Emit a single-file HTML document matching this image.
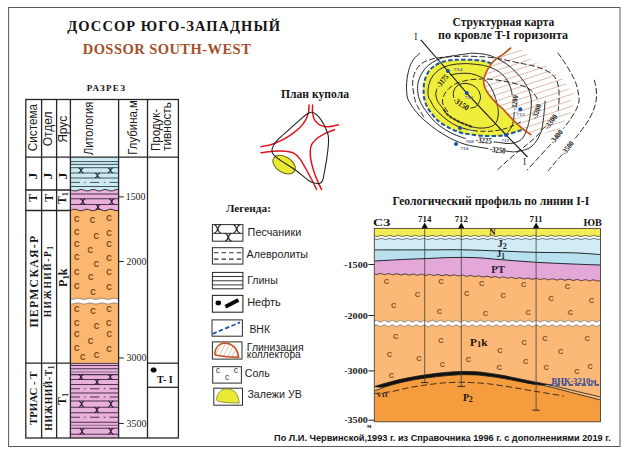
<!DOCTYPE html>
<html lang="ru"><head><meta charset="utf-8"><title>Доссор Юго-Западный</title>
<style>
html,body{margin:0;padding:0;background:#fff;}
body{width:624px;height:453px;overflow:hidden;}
svg{display:block;}
text{white-space:pre;}
</style></head><body>
<svg width="624" height="453" viewBox="0 0 624 453">
<rect x="0" y="0" width="624" height="453" fill="#fff" stroke="none" stroke-width="1" />
<rect x="8.6" y="7.5" width="611.4" height="439" fill="none" stroke="#5a5a5a" stroke-width="1" />
<text x="67.3" y="31" font-family='"Liberation Serif", serif' font-size="14.5" font-weight="bold" fill="#141414" text-anchor="start" textLength="212.7" lengthAdjust="spacing" >ДОССОР ЮГО-ЗАПАДНЫЙ</text>
<text x="82.7" y="53.5" font-family='"Liberation Serif", serif' font-size="14.5" font-weight="bold" fill="#a4512a" text-anchor="start" textLength="168.1" lengthAdjust="spacing" >DOSSOR SOUTH-WEST</text>
<text x="86.8" y="91.4" font-family='"Liberation Serif", serif' font-size="9" font-weight="bold" fill="#141414" text-anchor="start" textLength="38.2" lengthAdjust="spacing" >РАЗРЕЗ</text>
<rect x="70.4" y="157.1" width="48.2" height="33.4" fill="#cdeaf0" stroke="none" stroke-width="1" />
<rect x="70.4" y="189.5" width="48.2" height="21.5" fill="#e8b0da" stroke="none" stroke-width="1" />
<rect x="70.4" y="210" width="48.2" height="153.4" fill="#fbb670" stroke="none" stroke-width="1" />
<rect x="70.4" y="363.4" width="48.2" height="74.6" fill="#e8b0da" stroke="none" stroke-width="1" />
<path d="M70.4 189.55 C70.9 189.74 72.4 190.45 73.4 190.67 C74.4 190.89 75.4 191 76.4 190.85 C77.4 190.69 78.4 189.95 79.4 189.73 C80.4 189.51 81.4 189.4 82.4 189.55 C83.4 189.71 84.4 190.45 85.4 190.67 C86.4 190.89 87.4 191 88.4 190.85 C89.4 190.69 90.4 189.95 91.4 189.73 C92.4 189.51 93.4 189.4 94.4 189.55 C95.4 189.71 96.4 190.45 97.4 190.67 C98.4 190.89 99.4 191 100.4 190.85 C101.4 190.69 102.4 189.95 103.4 189.73 C104.4 189.51 105.4 189.4 106.4 189.55 C107.4 189.71 108.4 190.45 109.4 190.67 C110.4 190.89 111.4 191 112.4 190.85 C113.4 190.69 114.4 189.95 115.4 189.73 C116.4 189.51 117.87 189.57 118.4 189.55 C118.93 189.53 118.57 189.6 118.6 189.61 L118.6 193 L70.4 193 Z" fill="#e8b0da" stroke="none" stroke-width="1" />
<path d="M70.4 189.55 C70.9 189.74 72.4 190.45 73.4 190.67 C74.4 190.89 75.4 191 76.4 190.85 C77.4 190.69 78.4 189.95 79.4 189.73 C80.4 189.51 81.4 189.4 82.4 189.55 C83.4 189.71 84.4 190.45 85.4 190.67 C86.4 190.89 87.4 191 88.4 190.85 C89.4 190.69 90.4 189.95 91.4 189.73 C92.4 189.51 93.4 189.4 94.4 189.55 C95.4 189.71 96.4 190.45 97.4 190.67 C98.4 190.89 99.4 191 100.4 190.85 C101.4 190.69 102.4 189.95 103.4 189.73 C104.4 189.51 105.4 189.4 106.4 189.55 C107.4 189.71 108.4 190.45 109.4 190.67 C110.4 190.89 111.4 191 112.4 190.85 C113.4 190.69 114.4 189.95 115.4 189.73 C116.4 189.51 117.87 189.57 118.4 189.55 C118.93 189.53 118.57 189.6 118.6 189.61 L118.6 188 L70.4 188 Z" fill="#cdeaf0" stroke="none" stroke-width="1" />
<path d="M70.4 189.55 C70.9 189.74 72.4 190.45 73.4 190.67 C74.4 190.89 75.4 191 76.4 190.85 C77.4 190.69 78.4 189.95 79.4 189.73 C80.4 189.51 81.4 189.4 82.4 189.55 C83.4 189.71 84.4 190.45 85.4 190.67 C86.4 190.89 87.4 191 88.4 190.85 C89.4 190.69 90.4 189.95 91.4 189.73 C92.4 189.51 93.4 189.4 94.4 189.55 C95.4 189.71 96.4 190.45 97.4 190.67 C98.4 190.89 99.4 191 100.4 190.85 C101.4 190.69 102.4 189.95 103.4 189.73 C104.4 189.51 105.4 189.4 106.4 189.55 C107.4 189.71 108.4 190.45 109.4 190.67 C110.4 190.89 111.4 191 112.4 190.85 C113.4 190.69 114.4 189.95 115.4 189.73 C116.4 189.51 117.87 189.57 118.4 189.55 C118.93 189.53 118.57 189.6 118.6 189.61 L118.6 193 L70.4 193 Z" fill="#e8b0da" stroke="none" stroke-width="1" />
<path d="M70.4 189.55 C70.9 189.74 72.4 190.45 73.4 190.67 C74.4 190.89 75.4 191 76.4 190.85 C77.4 190.69 78.4 189.95 79.4 189.73 C80.4 189.51 81.4 189.4 82.4 189.55 C83.4 189.71 84.4 190.45 85.4 190.67 C86.4 190.89 87.4 191 88.4 190.85 C89.4 190.69 90.4 189.95 91.4 189.73 C92.4 189.51 93.4 189.4 94.4 189.55 C95.4 189.71 96.4 190.45 97.4 190.67 C98.4 190.89 99.4 191 100.4 190.85 C101.4 190.69 102.4 189.95 103.4 189.73 C104.4 189.51 105.4 189.4 106.4 189.55 C107.4 189.71 108.4 190.45 109.4 190.67 C110.4 190.89 111.4 191 112.4 190.85 C113.4 190.69 114.4 189.95 115.4 189.73 C116.4 189.51 117.87 189.57 118.4 189.55 C118.93 189.53 118.57 189.6 118.6 189.61" fill="none" stroke="#2a2a34" stroke-width="1" />
<path d="M70.4 210.53 C70.9 210.35 72.4 209.58 73.4 209.4 C74.4 209.23 75.4 209.27 76.4 209.47 C77.4 209.66 78.4 210.42 79.4 210.6 C80.4 210.77 81.4 210.73 82.4 210.53 C83.4 210.34 84.4 209.58 85.4 209.4 C86.4 209.23 87.4 209.27 88.4 209.47 C89.4 209.66 90.4 210.42 91.4 210.6 C92.4 210.77 93.4 210.73 94.4 210.53 C95.4 210.34 96.4 209.58 97.4 209.4 C98.4 209.23 99.4 209.27 100.4 209.47 C101.4 209.66 102.4 210.42 103.4 210.6 C104.4 210.77 105.4 210.73 106.4 210.53 C107.4 210.34 108.4 209.58 109.4 209.4 C110.4 209.23 111.4 209.27 112.4 209.47 C113.4 209.66 114.4 210.42 115.4 210.6 C116.4 210.77 117.87 210.56 118.4 210.53 C118.93 210.51 118.57 210.48 118.6 210.47 L118.6 208 L70.4 208 Z" fill="#e8b0da" stroke="none" stroke-width="1" />
<path d="M70.4 210.53 C70.9 210.35 72.4 209.58 73.4 209.4 C74.4 209.23 75.4 209.27 76.4 209.47 C77.4 209.66 78.4 210.42 79.4 210.6 C80.4 210.77 81.4 210.73 82.4 210.53 C83.4 210.34 84.4 209.58 85.4 209.4 C86.4 209.23 87.4 209.27 88.4 209.47 C89.4 209.66 90.4 210.42 91.4 210.6 C92.4 210.77 93.4 210.73 94.4 210.53 C95.4 210.34 96.4 209.58 97.4 209.4 C98.4 209.23 99.4 209.27 100.4 209.47 C101.4 209.66 102.4 210.42 103.4 210.6 C104.4 210.77 105.4 210.73 106.4 210.53 C107.4 210.34 108.4 209.58 109.4 209.4 C110.4 209.23 111.4 209.27 112.4 209.47 C113.4 209.66 114.4 210.42 115.4 210.6 C116.4 210.77 117.87 210.56 118.4 210.53 C118.93 210.51 118.57 210.48 118.6 210.47 L118.6 213 L70.4 213 Z" fill="#fbb670" stroke="none" stroke-width="1" />
<path d="M70.4 210.53 C70.9 210.35 72.4 209.58 73.4 209.4 C74.4 209.23 75.4 209.27 76.4 209.47 C77.4 209.66 78.4 210.42 79.4 210.6 C80.4 210.77 81.4 210.73 82.4 210.53 C83.4 210.34 84.4 209.58 85.4 209.4 C86.4 209.23 87.4 209.27 88.4 209.47 C89.4 209.66 90.4 210.42 91.4 210.6 C92.4 210.77 93.4 210.73 94.4 210.53 C95.4 210.34 96.4 209.58 97.4 209.4 C98.4 209.23 99.4 209.27 100.4 209.47 C101.4 209.66 102.4 210.42 103.4 210.6 C104.4 210.77 105.4 210.73 106.4 210.53 C107.4 210.34 108.4 209.58 109.4 209.4 C110.4 209.23 111.4 209.27 112.4 209.47 C113.4 209.66 114.4 210.42 115.4 210.6 C116.4 210.77 117.87 210.56 118.4 210.53 C118.93 210.51 118.57 210.48 118.6 210.47" fill="none" stroke="#2a222a" stroke-width="1" />
<line x1="70.4" y1="161.6" x2="118.6" y2="161.6" stroke="#3c5560" stroke-width="1" />
<line x1="70.4" y1="164.4" x2="118.6" y2="164.4" stroke="#3c5560" stroke-width="1" />
<line x1="70.4" y1="167.7" x2="118.6" y2="167.7" stroke="#3c5560" stroke-width="1" />
<line x1="70.4" y1="173" x2="118.6" y2="173" stroke="#3c5560" stroke-width="1" />
<line x1="70.4" y1="178" x2="118.6" y2="178" stroke="#3c5560" stroke-width="1" />
<line x1="70.4" y1="186.5" x2="118.6" y2="186.5" stroke="#3c5560" stroke-width="1" />
<line x1="70.4" y1="182.4" x2="118.6" y2="182.4" stroke="#3c5560" stroke-width="1" stroke-dasharray="9.4 4.4 1.4 4.4"/>
<path d="M78.7 167.7 Q83.07 170.35 78.7 173 M83.3 167.7 Q78.93 170.35 83.3 173" fill="none" stroke="#1c2a30" stroke-width="1.1" />
<path d="M108.1 167.7 Q112.47 170.35 108.1 173 M112.7 167.7 Q108.33 170.35 112.7 173" fill="none" stroke="#1c2a30" stroke-width="1.1" />
<path d="M95.1 173 Q99.47 175.5 95.1 178 M99.7 173 Q95.33 175.5 99.7 178" fill="none" stroke="#1c2a30" stroke-width="1.1" />
<line x1="70.4" y1="194" x2="118.6" y2="194" stroke="#4a3350" stroke-width="1.05" />
<line x1="70.4" y1="198.8" x2="118.6" y2="198.8" stroke="#4a3350" stroke-width="1.05" />
<line x1="70.4" y1="204.4" x2="118.6" y2="204.4" stroke="#4a3350" stroke-width="1.05" />
<path d="M80.5 198.8 Q84.87 201.6 80.5 204.4 M85.1 198.8 Q80.73 201.6 85.1 204.4" fill="none" stroke="#2a1a30" stroke-width="1.1" />
<path d="M109.4 198.8 Q113.77 201.6 109.4 204.4 M114 198.8 Q109.63 201.6 114 204.4" fill="none" stroke="#2a1a30" stroke-width="1.1" />
<path d="M95.7 204.4 Q100.07 207.1 95.7 209.8 M100.3 204.4 Q95.93 207.1 100.3 209.8" fill="none" stroke="#2a1a30" stroke-width="1.1" />
<line x1="70.4" y1="365.5" x2="118.6" y2="365.5" stroke="#4a3350" stroke-width="1.05" />
<line x1="70.4" y1="368.8" x2="118.6" y2="368.8" stroke="#4a3350" stroke-width="1.05" />
<line x1="70.4" y1="374.6" x2="118.6" y2="374.6" stroke="#4a3350" stroke-width="1.05" />
<line x1="70.4" y1="379.5" x2="118.6" y2="379.5" stroke="#4a3350" stroke-width="1.05" />
<line x1="70.4" y1="384.4" x2="118.6" y2="384.4" stroke="#4a3350" stroke-width="1.05" />
<line x1="70.4" y1="392.9" x2="118.6" y2="392.9" stroke="#4a3350" stroke-width="1.05" />
<line x1="70.4" y1="401" x2="118.6" y2="401" stroke="#4a3350" stroke-width="1.05" />
<line x1="70.4" y1="407.2" x2="118.6" y2="407.2" stroke="#4a3350" stroke-width="1.05" />
<line x1="70.4" y1="412.8" x2="118.6" y2="412.8" stroke="#4a3350" stroke-width="1.05" />
<line x1="70.4" y1="422.3" x2="118.6" y2="422.3" stroke="#4a3350" stroke-width="1.05" />
<line x1="70.4" y1="428.3" x2="118.6" y2="428.3" stroke="#4a3350" stroke-width="1.05" />
<line x1="70.4" y1="434.3" x2="118.6" y2="434.3" stroke="#4a3350" stroke-width="1.05" />
<line x1="70.4" y1="372" x2="118.6" y2="372" stroke="#4a3350" stroke-width="0.6" />
<line x1="70.4" y1="425.3" x2="118.6" y2="425.3" stroke="#4a3350" stroke-width="0.6" />
<line x1="70.4" y1="388.8" x2="118.6" y2="388.8" stroke="#4a3350" stroke-width="1.05" stroke-dasharray="9.4 4.4 1.4 4.4"/>
<line x1="70.4" y1="397" x2="118.6" y2="397" stroke="#4a3350" stroke-width="1.05" stroke-dasharray="9.4 4.4 1.4 4.4"/>
<line x1="70.4" y1="417.2" x2="118.6" y2="417.2" stroke="#4a3350" stroke-width="1.05" stroke-dasharray="9.4 4.4 1.4 4.4"/>
<path d="M78.7 374.6 Q83.07 377.05 78.7 379.5 M83.3 374.6 Q78.93 377.05 83.3 379.5" fill="none" stroke="#2a1a30" stroke-width="1.1" />
<path d="M108 374.6 Q112.37 377.05 108 379.5 M112.6 374.6 Q108.23 377.05 112.6 379.5" fill="none" stroke="#2a1a30" stroke-width="1.1" />
<path d="M94.7 379.5 Q99.07 381.95 94.7 384.4 M99.3 379.5 Q94.93 381.95 99.3 384.4" fill="none" stroke="#2a1a30" stroke-width="1.1" />
<path d="M79.3 401 Q83.67 404.1 79.3 407.2 M83.9 401 Q79.53 404.1 83.9 407.2" fill="none" stroke="#2a1a30" stroke-width="1.1" />
<path d="M108.5 401 Q112.87 404.1 108.5 407.2 M113.1 401 Q108.73 404.1 113.1 407.2" fill="none" stroke="#2a1a30" stroke-width="1.1" />
<path d="M94.6 407.2 Q98.97 410 94.6 412.8 M99.2 407.2 Q94.83 410 99.2 412.8" fill="none" stroke="#2a1a30" stroke-width="1.1" />
<path d="M79.7 428.3 Q84.07 431.3 79.7 434.3 M84.3 428.3 Q79.93 431.3 84.3 434.3" fill="none" stroke="#2a1a30" stroke-width="1.1" />
<path d="M108.5 428.3 Q112.87 431.3 108.5 434.3 M113.1 428.3 Q108.73 431.3 113.1 434.3" fill="none" stroke="#2a1a30" stroke-width="1.1" />
<text x="76.8" y="221.5" font-family='"Liberation Sans", sans-serif' font-size="8.3" font-weight="bold" fill="#7a4414" text-anchor="middle" textLength="5.6" lengthAdjust="spacingAndGlyphs" >C</text>
<text x="92.6" y="223" font-family='"Liberation Sans", sans-serif' font-size="8.3" font-weight="bold" fill="#7a4414" text-anchor="middle" textLength="5.6" lengthAdjust="spacingAndGlyphs" >C</text>
<text x="109" y="221" font-family='"Liberation Sans", sans-serif' font-size="8.3" font-weight="bold" fill="#7a4414" text-anchor="middle" textLength="5.6" lengthAdjust="spacingAndGlyphs" >C</text>
<text x="76.8" y="235" font-family='"Liberation Sans", sans-serif' font-size="8.3" font-weight="bold" fill="#7a4414" text-anchor="middle" textLength="5.6" lengthAdjust="spacingAndGlyphs" >C</text>
<text x="96.2" y="238.6" font-family='"Liberation Sans", sans-serif' font-size="8.3" font-weight="bold" fill="#7a4414" text-anchor="middle" textLength="5.6" lengthAdjust="spacingAndGlyphs" >C</text>
<text x="109" y="235.6" font-family='"Liberation Sans", sans-serif' font-size="8.3" font-weight="bold" fill="#7a4414" text-anchor="middle" textLength="5.6" lengthAdjust="spacingAndGlyphs" >C</text>
<text x="76.8" y="246.5" font-family='"Liberation Sans", sans-serif' font-size="8.3" font-weight="bold" fill="#7a4414" text-anchor="middle" textLength="5.6" lengthAdjust="spacingAndGlyphs" >C</text>
<text x="90.4" y="252.7" font-family='"Liberation Sans", sans-serif' font-size="8.3" font-weight="bold" fill="#7a4414" text-anchor="middle" textLength="5.6" lengthAdjust="spacingAndGlyphs" >C</text>
<text x="109" y="246.5" font-family='"Liberation Sans", sans-serif' font-size="8.3" font-weight="bold" fill="#7a4414" text-anchor="middle" textLength="5.6" lengthAdjust="spacingAndGlyphs" >C</text>
<text x="76.8" y="260.3" font-family='"Liberation Sans", sans-serif' font-size="8.3" font-weight="bold" fill="#7a4414" text-anchor="middle" textLength="5.6" lengthAdjust="spacingAndGlyphs" >C</text>
<text x="96.2" y="267.4" font-family='"Liberation Sans", sans-serif' font-size="8.3" font-weight="bold" fill="#7a4414" text-anchor="middle" textLength="5.6" lengthAdjust="spacingAndGlyphs" >C</text>
<text x="109" y="261" font-family='"Liberation Sans", sans-serif' font-size="8.3" font-weight="bold" fill="#7a4414" text-anchor="middle" textLength="5.6" lengthAdjust="spacingAndGlyphs" >C</text>
<text x="76.8" y="275.1" font-family='"Liberation Sans", sans-serif' font-size="8.3" font-weight="bold" fill="#7a4414" text-anchor="middle" textLength="5.6" lengthAdjust="spacingAndGlyphs" >C</text>
<text x="90.9" y="279.7" font-family='"Liberation Sans", sans-serif' font-size="8.3" font-weight="bold" fill="#7a4414" text-anchor="middle" textLength="5.6" lengthAdjust="spacingAndGlyphs" >C</text>
<text x="109" y="275.1" font-family='"Liberation Sans", sans-serif' font-size="8.3" font-weight="bold" fill="#7a4414" text-anchor="middle" textLength="5.6" lengthAdjust="spacingAndGlyphs" >C</text>
<text x="76.8" y="289" font-family='"Liberation Sans", sans-serif' font-size="8.3" font-weight="bold" fill="#7a4414" text-anchor="middle" textLength="5.6" lengthAdjust="spacingAndGlyphs" >C</text>
<text x="93" y="294.5" font-family='"Liberation Sans", sans-serif' font-size="8.3" font-weight="bold" fill="#7a4414" text-anchor="middle" textLength="5.6" lengthAdjust="spacingAndGlyphs" >C</text>
<text x="109" y="289.5" font-family='"Liberation Sans", sans-serif' font-size="8.3" font-weight="bold" fill="#7a4414" text-anchor="middle" textLength="5.6" lengthAdjust="spacingAndGlyphs" >C</text>
<text x="76.8" y="312.1" font-family='"Liberation Sans", sans-serif' font-size="8.3" font-weight="bold" fill="#7a4414" text-anchor="middle" textLength="5.6" lengthAdjust="spacingAndGlyphs" >C</text>
<text x="93" y="313.9" font-family='"Liberation Sans", sans-serif' font-size="8.3" font-weight="bold" fill="#7a4414" text-anchor="middle" textLength="5.6" lengthAdjust="spacingAndGlyphs" >C</text>
<text x="109" y="311.6" font-family='"Liberation Sans", sans-serif' font-size="8.3" font-weight="bold" fill="#7a4414" text-anchor="middle" textLength="5.6" lengthAdjust="spacingAndGlyphs" >C</text>
<text x="76.8" y="325.7" font-family='"Liberation Sans", sans-serif' font-size="8.3" font-weight="bold" fill="#7a4414" text-anchor="middle" textLength="5.6" lengthAdjust="spacingAndGlyphs" >C</text>
<text x="96.5" y="328.9" font-family='"Liberation Sans", sans-serif' font-size="8.3" font-weight="bold" fill="#7a4414" text-anchor="middle" textLength="5.6" lengthAdjust="spacingAndGlyphs" >C</text>
<text x="108.9" y="326.2" font-family='"Liberation Sans", sans-serif' font-size="8.3" font-weight="bold" fill="#7a4414" text-anchor="middle" textLength="5.6" lengthAdjust="spacingAndGlyphs" >C</text>
<text x="76.8" y="337.4" font-family='"Liberation Sans", sans-serif' font-size="8.3" font-weight="bold" fill="#7a4414" text-anchor="middle" textLength="5.6" lengthAdjust="spacingAndGlyphs" >C</text>
<text x="90.5" y="343.5" font-family='"Liberation Sans", sans-serif' font-size="8.3" font-weight="bold" fill="#7a4414" text-anchor="middle" textLength="5.6" lengthAdjust="spacingAndGlyphs" >C</text>
<text x="109.4" y="337.4" font-family='"Liberation Sans", sans-serif' font-size="8.3" font-weight="bold" fill="#7a4414" text-anchor="middle" textLength="5.6" lengthAdjust="spacingAndGlyphs" >C</text>
<text x="76.8" y="350.9" font-family='"Liberation Sans", sans-serif' font-size="8.3" font-weight="bold" fill="#7a4414" text-anchor="middle" textLength="5.6" lengthAdjust="spacingAndGlyphs" >C</text>
<text x="109" y="351.5" font-family='"Liberation Sans", sans-serif' font-size="8.3" font-weight="bold" fill="#7a4414" text-anchor="middle" textLength="5.6" lengthAdjust="spacingAndGlyphs" >C</text>
<text x="82.9" y="359.8" font-family='"Liberation Sans", sans-serif' font-size="8.3" font-weight="bold" fill="#7a4414" text-anchor="middle" textLength="5.6" lengthAdjust="spacingAndGlyphs" >C</text>
<text x="96.5" y="358.4" font-family='"Liberation Sans", sans-serif' font-size="8.3" font-weight="bold" fill="#7a4414" text-anchor="middle" textLength="5.6" lengthAdjust="spacingAndGlyphs" >C</text>
<path d="M70.8 299.3 C71.3 299.27 72.8 299.29 73.8 299.12 C74.8 298.96 75.8 298.4 76.8 298.3 C77.8 298.19 78.8 298.31 79.8 298.48 C80.8 298.64 81.8 299.2 82.8 299.3 C83.8 299.41 84.8 299.29 85.8 299.12 C86.8 298.96 87.8 298.4 88.8 298.3 C89.8 298.19 90.8 298.31 91.8 298.48 C92.8 298.64 93.8 299.2 94.8 299.3 C95.8 299.41 96.8 299.29 97.8 299.12 C98.8 298.96 99.8 298.4 100.8 298.3 C101.8 298.19 102.8 298.31 103.8 298.48 C104.8 298.64 105.8 299.2 106.8 299.3 C107.8 299.41 108.8 299.29 109.8 299.12 C110.8 298.96 111.8 298.4 112.8 298.3 C113.8 298.19 114.9 298.33 115.8 298.48 C116.7 298.62 117.8 299.06 118.2 299.18 L118.2 303.88 C117.8 303.76 116.7 303.32 115.8 303.18 C114.9 303.03 113.8 302.89 112.8 303 C111.8 303.1 110.8 303.66 109.8 303.82 C108.8 303.99 107.8 304.11 106.8 304 C105.8 303.9 104.8 303.34 103.8 303.18 C102.8 303.01 101.8 302.89 100.8 303 C99.8 303.1 98.8 303.66 97.8 303.82 C96.8 303.99 95.8 304.11 94.8 304 C93.8 303.9 92.8 303.34 91.8 303.18 C90.8 303.01 89.8 302.89 88.8 303 C87.8 303.1 86.8 303.66 85.8 303.82 C84.8 303.99 83.8 304.11 82.8 304 C81.8 303.9 80.8 303.34 79.8 303.18 C78.8 303.01 77.8 302.89 76.8 303 C75.8 303.1 74.8 303.66 73.8 303.82 C72.8 303.99 71.3 303.97 70.8 304 Z" fill="#fff" stroke="none" stroke-width="1" />
<path d="M70.8 299.3 C71.3 299.27 72.8 299.29 73.8 299.12 C74.8 298.96 75.8 298.4 76.8 298.3 C77.8 298.19 78.8 298.31 79.8 298.48 C80.8 298.64 81.8 299.2 82.8 299.3 C83.8 299.41 84.8 299.29 85.8 299.12 C86.8 298.96 87.8 298.4 88.8 298.3 C89.8 298.19 90.8 298.31 91.8 298.48 C92.8 298.64 93.8 299.2 94.8 299.3 C95.8 299.41 96.8 299.29 97.8 299.12 C98.8 298.96 99.8 298.4 100.8 298.3 C101.8 298.19 102.8 298.31 103.8 298.48 C104.8 298.64 105.8 299.2 106.8 299.3 C107.8 299.41 108.8 299.29 109.8 299.12 C110.8 298.96 111.8 298.4 112.8 298.3 C113.8 298.19 114.9 298.33 115.8 298.48 C116.7 298.62 117.8 299.06 118.2 299.18" fill="none" stroke="#7a6a58" stroke-width="0.75" />
<path d="M70.8 304 C71.3 303.97 72.8 303.99 73.8 303.82 C74.8 303.66 75.8 303.1 76.8 303 C77.8 302.89 78.8 303.01 79.8 303.18 C80.8 303.34 81.8 303.9 82.8 304 C83.8 304.11 84.8 303.99 85.8 303.82 C86.8 303.66 87.8 303.1 88.8 303 C89.8 302.89 90.8 303.01 91.8 303.18 C92.8 303.34 93.8 303.9 94.8 304 C95.8 304.11 96.8 303.99 97.8 303.82 C98.8 303.66 99.8 303.1 100.8 303 C101.8 302.89 102.8 303.01 103.8 303.18 C104.8 303.34 105.8 303.9 106.8 304 C107.8 304.11 108.8 303.99 109.8 303.82 C110.8 303.66 111.8 303.1 112.8 303 C113.8 302.89 114.9 303.03 115.8 303.18 C116.7 303.32 117.8 303.76 118.2 303.88" fill="none" stroke="#7a6a58" stroke-width="0.75" />
<rect x="25.8" y="99.5" width="152.6" height="338.5" fill="none" stroke="#262626" stroke-width="1.3" />
<line x1="41.6" y1="99.5" x2="41.6" y2="438" stroke="#262626" stroke-width="1.3" />
<line x1="56.6" y1="99.5" x2="56.6" y2="438" stroke="#262626" stroke-width="1.3" />
<line x1="70.4" y1="99.5" x2="70.4" y2="438" stroke="#262626" stroke-width="1.3" />
<line x1="118.6" y1="99.5" x2="118.6" y2="438" stroke="#262626" stroke-width="1.3" />
<line x1="147.5" y1="99.5" x2="147.5" y2="438" stroke="#262626" stroke-width="1.3" />
<line x1="25.8" y1="157.1" x2="178.4" y2="157.1" stroke="#262626" stroke-width="1.3" />
<line x1="25.8" y1="190" x2="70.4" y2="190" stroke="#262626" stroke-width="1.3" />
<line x1="25.8" y1="210.5" x2="70.4" y2="210.5" stroke="#262626" stroke-width="1.3" />
<line x1="25.8" y1="363.2" x2="70.4" y2="363.2" stroke="#262626" stroke-width="1.3" />
<line x1="147.5" y1="363.2" x2="178.4" y2="363.2" stroke="#262626" stroke-width="1.3" />
<line x1="147.5" y1="387.3" x2="178.4" y2="387.3" stroke="#262626" stroke-width="1.3" />
<line x1="70.4" y1="363.4" x2="118.6" y2="363.4" stroke="#3a2a3a" stroke-width="0.9" />
<text x="0" y="0" transform="translate(36.9,151.2) rotate(-90)" font-family='"Liberation Sans", sans-serif' font-size="12" font-weight="normal" fill="#1a1a1a" text-anchor="start" textLength="47.2" lengthAdjust="spacingAndGlyphs" >Система</text>
<text x="0" y="0" transform="translate(52.2,146.3) rotate(-90)" font-family='"Liberation Sans", sans-serif' font-size="12" font-weight="normal" fill="#1a1a1a" text-anchor="start" textLength="34.8" lengthAdjust="spacingAndGlyphs" >Отдел</text>
<text x="0" y="0" transform="translate(66.9,142.8) rotate(-90)" font-family='"Liberation Sans", sans-serif' font-size="12" font-weight="normal" fill="#1a1a1a" text-anchor="start" textLength="27" lengthAdjust="spacingAndGlyphs" >Ярус</text>
<text x="0" y="0" transform="translate(93.2,155.1) rotate(-90)" font-family='"Liberation Sans", sans-serif' font-size="12" font-weight="normal" fill="#1a1a1a" text-anchor="start" textLength="53.4" lengthAdjust="spacingAndGlyphs" >Литология</text>
<text x="0" y="0" transform="translate(137,154.8) rotate(-90)" font-family='"Liberation Sans", sans-serif' font-size="12" font-weight="normal" fill="#1a1a1a" text-anchor="start" textLength="54.6" lengthAdjust="spacingAndGlyphs" >Глубина,м</text>
<text x="0" y="0" transform="translate(159.9,150.9) rotate(-90)" font-family='"Liberation Sans", sans-serif' font-size="12" font-weight="normal" fill="#1a1a1a" text-anchor="start" textLength="42" lengthAdjust="spacingAndGlyphs" >Продук-</text>
<text x="0" y="0" transform="translate(170.9,150.9) rotate(-90)" font-family='"Liberation Sans", sans-serif' font-size="12" font-weight="normal" fill="#1a1a1a" text-anchor="start" textLength="48.8" lengthAdjust="spacingAndGlyphs" >тивность</text>
<text x="0" y="0" transform="translate(36.9,179.3) rotate(-90)" font-family='"Liberation Serif", serif' font-size="13" font-weight="bold" fill="#161616" text-anchor="start" >J</text>
<text x="0" y="0" transform="translate(52.3,179.3) rotate(-90)" font-family='"Liberation Serif", serif' font-size="13" font-weight="bold" fill="#161616" text-anchor="start" >J</text>
<text x="0" y="0" transform="translate(67.2,179.3) rotate(-90)" font-family='"Liberation Serif", serif' font-size="13" font-weight="bold" fill="#161616" text-anchor="start" >J</text>
<text x="0" y="0" transform="translate(36.9,201.8) rotate(-90)" font-family='"Liberation Serif", serif' font-size="11.5" font-weight="bold" fill="#161616" text-anchor="start" >T</text>
<text x="0" y="0" transform="translate(52.7,201.8) rotate(-90)" font-family='"Liberation Serif", serif' font-size="11.5" font-weight="bold" fill="#161616" text-anchor="start" >T</text>
<text x="0" y="0" transform="translate(65.8,204) rotate(-90)" font-family='"Liberation Serif", serif' font-size="11.5" font-weight="bold" fill="#161616" text-anchor="start" >T<tspan font-size="8.6" dy="2">1</tspan></text>
<text x="0" y="0" transform="translate(37.6,327.6) rotate(-90)" font-family='"Liberation Serif", serif' font-size="11.8" font-weight="bold" fill="#161616" text-anchor="start" textLength="91.8" lengthAdjust="spacing" >ПЕРМСКАЯ-Р</text>
<text x="0" y="0" transform="translate(51.4,317.3) rotate(-90)" font-family='"Liberation Serif", serif' font-size="9.4" font-weight="bold" fill="#161616" text-anchor="start" textLength="71.3" lengthAdjust="spacing" >НИЖНИЙ-Р<tspan font-size="7.4" dy="1.8">1</tspan></text>
<text x="0" y="0" transform="translate(66.8,287) rotate(-90)" font-family='"Liberation Serif", serif' font-size="11.8" font-weight="bold" fill="#161616" text-anchor="start" textLength="18.6" lengthAdjust="spacingAndGlyphs" >P<tspan font-size="8.6" dy="2.2">1</tspan><tspan dy="-2.2">k</tspan></text>
<text x="0" y="0" transform="translate(36.9,425) rotate(-90)" font-family='"Liberation Serif", serif' font-size="10.2" font-weight="bold" fill="#161616" text-anchor="start" textLength="53.6" lengthAdjust="spacingAndGlyphs" >ТРИАС - Т</text>
<text x="0" y="0" transform="translate(51.8,430.7) rotate(-90)" font-family='"Liberation Serif", serif' font-size="9.6" font-weight="bold" fill="#161616" text-anchor="start" textLength="65.2" lengthAdjust="spacing" >НИЖНИЙ-Т<tspan font-size="7.4" dy="1.8">1</tspan></text>
<text x="0" y="0" transform="translate(65.8,404.9) rotate(-90)" font-family='"Liberation Serif", serif' font-size="11.8" font-weight="bold" fill="#161616" text-anchor="start" >T<tspan font-size="8.6" dy="2">1</tspan></text>
<line x1="118.6" y1="196.9" x2="123.8" y2="196.9" stroke="#222" stroke-width="1" />
<text x="125.7" y="200" font-family='"Liberation Serif", serif' font-size="9.8" font-weight="normal" fill="#222" text-anchor="start" textLength="19.8" lengthAdjust="spacingAndGlyphs" >1500</text>
<line x1="118.6" y1="261.5" x2="123.8" y2="261.5" stroke="#222" stroke-width="1" />
<text x="126.6" y="264.6" font-family='"Liberation Serif", serif' font-size="9.8" font-weight="normal" fill="#222" text-anchor="start" textLength="19.8" lengthAdjust="spacingAndGlyphs" >2000</text>
<line x1="118.6" y1="358" x2="123.8" y2="358" stroke="#222" stroke-width="1" />
<text x="126.6" y="361.1" font-family='"Liberation Serif", serif' font-size="9.8" font-weight="normal" fill="#222" text-anchor="start" textLength="19.8" lengthAdjust="spacingAndGlyphs" >3000</text>
<line x1="118.6" y1="423.4" x2="123.8" y2="423.4" stroke="#222" stroke-width="1" />
<text x="126.6" y="426.5" font-family='"Liberation Serif", serif' font-size="9.8" font-weight="normal" fill="#222" text-anchor="start" textLength="19.8" lengthAdjust="spacingAndGlyphs" >3500</text>
<ellipse cx="153.6" cy="370.0" rx="3.0" ry="2.5" transform="rotate(15 153.6 370)" fill="#0a0a0a"/>
<text x="157.1" y="382.7" font-family='"Liberation Serif", serif' font-size="9.8" font-weight="bold" fill="#111" text-anchor="start" textLength="15.6" lengthAdjust="spacingAndGlyphs" >T- I</text>
<text x="281" y="98.3" font-family='"Liberation Serif", serif' font-size="11.8" font-weight="bold" fill="#161616" text-anchor="start" textLength="68" lengthAdjust="spacingAndGlyphs" >План купола</text>
<ellipse cx="284.1" cy="164.6" rx="12.3" ry="7.8" transform="rotate(32 284.1 164.6)" fill="#eaea36" stroke="#6e6e18" stroke-width="1"/>
<path d="M309 105 C308.93 106.15 309.15 109.42 308.6 111.9 C308.05 114.38 307.18 117.25 305.7 119.9 C304.22 122.55 302.18 125.32 299.7 127.8 C297.22 130.28 293.95 132.65 290.8 134.8 C287.65 136.95 284.12 139.05 280.8 140.7 C277.48 142.35 274.2 143.7 270.9 144.7 C267.6 145.7 262.65 146.37 261 146.7" fill="none" stroke="#e0141c" stroke-width="1.5" stroke-linecap="round"/>
<path d="M312.6 105 C312.6 106.32 312.27 110.42 312.6 112.9 C312.93 115.38 313.43 117.92 314.6 119.9 C315.77 121.88 317.45 123.65 319.6 124.8 C321.75 125.95 324.37 126.8 327.5 126.8 C330.63 126.8 336.58 125.13 338.4 124.8" fill="none" stroke="#e0141c" stroke-width="1.5" stroke-linecap="round"/>
<path d="M334.5 129.8 C332.83 130.47 327.48 132.32 324.5 133.8 C321.52 135.28 318.75 136.88 316.6 138.7 C314.45 140.52 312.67 142.53 311.6 144.7 C310.53 146.87 310.27 148.88 310.2 151.7 C310.13 154.52 310.47 157.97 311.2 161.6 C311.93 165.23 313.37 169.87 314.6 173.5 C315.83 177.13 317.43 180.75 318.6 183.4 C319.77 186.05 321.1 188.4 321.6 189.4" fill="none" stroke="#e0141c" stroke-width="1.5" stroke-linecap="round"/>
<path d="M261 152.7 C262.98 152.47 268.93 151.53 272.9 151.3 C276.87 151.07 281.33 150.98 284.8 151.3 C288.27 151.62 291.22 151.98 293.7 153.2 C296.18 154.42 297.7 156.05 299.7 158.6 C301.7 161.15 303.72 165.02 305.7 168.5 C307.68 171.98 309.78 176.02 311.6 179.5 C313.42 182.98 315.77 187.75 316.6 189.4" fill="none" stroke="#e0141c" stroke-width="1.5" stroke-linecap="round"/>
<path d="M312.6 112.3 C314.75 112.9 317.62 115.65 319.6 117.9 C321.58 120.15 323.08 122.98 324.5 125.8 C325.92 128.62 327.43 131.98 328.1 134.8 C328.77 137.62 328.7 138.9 328.5 142.7 C328.3 146.5 327.57 152.8 326.9 157.6 C326.23 162.4 325.22 167.68 324.5 171.5 C323.78 175.32 323.42 178.48 322.6 180.5 C321.78 182.52 320.93 183.18 319.6 183.6 C318.27 184.02 316.43 183.52 314.6 183 C312.77 182.48 311.92 182.75 308.6 180.5 C305.28 178.25 299.33 172.82 294.7 169.5 C290.07 166.18 284.27 162.98 280.8 160.6 C277.33 158.22 275.38 156.85 273.9 155.2 C272.42 153.55 271.9 152.45 271.9 150.7 C271.9 148.95 272.75 146.7 273.9 144.7 C275.05 142.7 276.32 141.18 278.8 138.7 C281.28 136.22 285.48 132.77 288.8 129.8 C292.12 126.83 295.72 123.48 298.7 120.9 C301.68 118.32 304.38 115.73 306.7 114.3 C309.02 112.87 310.45 111.7 312.6 112.3 Z" fill="none" stroke="#222" stroke-width="1.1" />
<text x="226" y="212.3" font-family='"Liberation Serif", serif' font-size="10.6" font-weight="bold" fill="#161616" text-anchor="start" textLength="45" lengthAdjust="spacingAndGlyphs" >Легенда:</text>
<rect x="212.4" y="224.6" width="30.5" height="16.6" fill="#fff" stroke="#2a2a2a" stroke-width="1" />
<line x1="212.4" y1="233.3" x2="242.9" y2="233.3" stroke="#2a2a2a" stroke-width="1" />
<path d="M214.6 224.6 Q220.49 228.95 214.6 233.3 M220.8 224.6 Q214.91 228.95 220.8 233.3" fill="none" stroke="#2a2a2a" stroke-width="1.3" />
<path d="M233.6 224.6 Q239.49 228.95 233.6 233.3 M239.8 224.6 Q233.91 228.95 239.8 233.3" fill="none" stroke="#2a2a2a" stroke-width="1.3" />
<path d="M225.2 233.3 Q231.09 237.25 225.2 241.2 M231.4 233.3 Q225.51 237.25 231.4 241.2" fill="none" stroke="#2a2a2a" stroke-width="1.3" />
<text x="247.6" y="235.8" font-family='"Liberation Sans", sans-serif' font-size="10.8" font-weight="normal" fill="#1c1c1c" text-anchor="start" textLength="53.6" lengthAdjust="spacingAndGlyphs" >Песчаники</text>
<rect x="212.4" y="247.7" width="30.5" height="16.4" fill="#fff" stroke="#2a2a2a" stroke-width="1" />
<line x1="213.9" y1="252.8" x2="241.9" y2="252.8" stroke="#2a2a2a" stroke-width="1.05" stroke-dasharray="4.5 3.1"/>
<line x1="213.9" y1="259.1" x2="241.9" y2="259.1" stroke="#2a2a2a" stroke-width="1.05" stroke-dasharray="4.5 3.1"/>
<text x="246.6" y="258.3" font-family='"Liberation Sans", sans-serif' font-size="10.8" font-weight="normal" fill="#1c1c1c" text-anchor="start" textLength="61.4" lengthAdjust="spacingAndGlyphs" >Алевролиты</text>
<rect x="212.4" y="272.4" width="30.5" height="16.4" fill="#fff" stroke="#2a2a2a" stroke-width="1" />
<line x1="212.4" y1="276.5" x2="242.9" y2="276.5" stroke="#2a2a2a" stroke-width="0.95" />
<line x1="212.4" y1="280.8" x2="242.9" y2="280.8" stroke="#2a2a2a" stroke-width="0.95" />
<line x1="212.4" y1="284.9" x2="242.9" y2="284.9" stroke="#2a2a2a" stroke-width="0.95" />
<text x="247.2" y="283.5" font-family='"Liberation Sans", sans-serif' font-size="10.8" font-weight="normal" fill="#1c1c1c" text-anchor="start" textLength="30.6" lengthAdjust="spacingAndGlyphs" >Глины</text>
<rect x="212.4" y="295.4" width="30.5" height="16.8" fill="#fff" stroke="#2a2a2a" stroke-width="1.1" />
<ellipse cx="218.3" cy="302.9" rx="2.8" ry="2.4" fill="#0a0a0a"/>
<line x1="225.4" y1="306.7" x2="238.4" y2="300" stroke="#0a0a0a" stroke-width="4" />
<text x="247.2" y="305.9" font-family='"Liberation Sans", sans-serif' font-size="10.8" font-weight="normal" fill="#1c1c1c" text-anchor="start" textLength="33.6" lengthAdjust="spacingAndGlyphs" >Нефть</text>
<rect x="212" y="319.9" width="30.4" height="16.3" fill="#fff" stroke="#2a2a2a" stroke-width="1" />
<line x1="212.6" y1="333.8" x2="240" y2="322.4" stroke="#1f55b5" stroke-width="1.8" stroke-dasharray="4.4 2.4"/>
<text x="249.4" y="333.3" font-family='"Liberation Sans", sans-serif' font-size="10" font-weight="normal" fill="#1c1c1c" text-anchor="start" textLength="20.6" lengthAdjust="spacingAndGlyphs" >ВНК</text>
<rect x="212.4" y="341.9" width="29.6" height="17.2" fill="#fff" stroke="#2a2a2a" stroke-width="1" />
<clipPath id="c6"><path d="M214.7 353.2 C215.4 348 218.6 343.6 223.6 343.2 C231.5 342.7 237.4 347.5 238.6 357.2 C233 357.3 223 356.6 217.6 355.6 C215.6 355.2 214.6 354.4 214.7 353.2 Z"/></clipPath>
<path d="M200.2 359 L209.2 341 M204.6 359 L213.6 341 M209 359 L218 341 M213.4 359 L222.4 341 M217.8 359 L226.8 341 M222.2 359 L231.2 341 M226.6 359 L235.6 341 M231 359 L240 341 M235.4 359 L244.4 341 M239.8 359 L248.8 341 M244.2 359 L253.2 341" fill="none" stroke="#dc8f70" stroke-width="0.6" clip-path="url(#c6)"/>
<path d="M214.7 353.2 C215.4 348 218.6 343.6 223.6 343.2 C231.5 342.7 237.4 347.5 238.6 357.2 C233 357.3 223 356.6 217.6 355.6 C215.6 355.2 214.6 354.4 214.7 353.2 Z" fill="none" stroke="#c0501c" stroke-width="1.5" />
<text x="246.8" y="350.8" font-family='"Liberation Sans", sans-serif' font-size="10" font-weight="normal" fill="#1c1c1c" text-anchor="start" textLength="56.8" lengthAdjust="spacingAndGlyphs" >Глинизация</text>
<text x="246.8" y="358.2" font-family='"Liberation Sans", sans-serif' font-size="10" font-weight="normal" fill="#1c1c1c" text-anchor="start" textLength="54" lengthAdjust="spacingAndGlyphs" >коллектора</text>
<rect x="212.7" y="366.7" width="28.7" height="16.4" fill="#fff" stroke="#2a2a2a" stroke-width="1" />
<text x="217.8" y="373.4" font-family='"Liberation Sans", sans-serif' font-size="8.6" font-weight="normal" fill="#333" text-anchor="middle" >c</text>
<text x="227.1" y="380" font-family='"Liberation Sans", sans-serif' font-size="8.6" font-weight="normal" fill="#333" text-anchor="middle" >c</text>
<text x="235.9" y="373.4" font-family='"Liberation Sans", sans-serif' font-size="8.6" font-weight="normal" fill="#333" text-anchor="middle" >c</text>
<text x="244.8" y="376.6" font-family='"Liberation Sans", sans-serif' font-size="10.4" font-weight="normal" fill="#1c1c1c" text-anchor="start" textLength="25" lengthAdjust="spacingAndGlyphs" >Соль</text>
<rect x="213.8" y="388.2" width="28.7" height="17" fill="#fff" stroke="#2a2a2a" stroke-width="1" />
<path d="M216.5 399.2 C217.2 393.8 220.4 389.2 226 388.9 C233.7 388.5 238.6 393.6 239.2 403 C233.6 403.1 225 402.6 219.4 401.6 C217.4 401.2 216.4 400.4 216.5 399.2 Z" fill="#eaea36" stroke="#8a8a20" stroke-width="0.9" />
<text x="247.4" y="398" font-family='"Liberation Sans", sans-serif' font-size="10.4" font-weight="normal" fill="#1c1c1c" text-anchor="start" textLength="54.4" lengthAdjust="spacingAndGlyphs" >Залежи УВ</text>
<text x="452.6" y="25.5" font-family='"Liberation Serif", serif' font-size="11.6" font-weight="bold" fill="#161616" text-anchor="start" textLength="101.6" lengthAdjust="spacingAndGlyphs" >Структурная карта</text>
<text x="438" y="39.3" font-family='"Liberation Serif", serif' font-size="11.6" font-weight="bold" fill="#161616" text-anchor="start" textLength="130" lengthAdjust="spacingAndGlyphs" >по кровле T-I горизонта</text>
<path d="M491.6 63.4 C490.3 63 486.87 61.58 483.8 61 C480.73 60.42 477.17 60.1 473.2 59.9 C469.23 59.7 463.37 59.8 460 59.8 C456.63 59.8 455.93 59.55 453 59.9 C450.07 60.25 445.5 60.9 442.4 61.9 C439.3 62.9 436.72 64.25 434.4 65.9 C432.08 67.55 430.15 69.27 428.5 71.8 C426.85 74.33 425.32 77.78 424.5 81.1 C423.68 84.42 423.57 88.47 423.6 91.7 C423.63 94.93 423.88 97.57 424.7 100.5 C425.52 103.43 426.72 106.35 428.5 109.3 C430.28 112.25 433.32 115.92 435.4 118.2 C437.48 120.48 438.47 121.27 441 123 C443.53 124.73 447.23 126.98 450.6 128.6 C453.97 130.22 457.45 131.67 461.2 132.7 C464.95 133.73 468.9 134.25 473.1 134.8 C477.3 135.35 481.98 135.83 486.4 136 C490.82 136.17 495.85 136.12 499.6 135.8 C503.35 135.48 505.83 134.87 508.9 134.1 C511.97 133.33 515.58 131.98 518 131.2 C520.42 130.42 522.5 129.7 523.4 129.4 L522.8 129 C522.72 128.92 523.93 130.02 522.3 128.5 C520.67 126.98 516.1 123.02 513 119.9 C509.9 116.78 506.25 112.38 503.7 109.8 C501.15 107.22 499.47 106.1 497.7 104.4 C495.93 102.7 494.75 101.5 493.1 99.6 C491.45 97.7 489.23 95.2 487.8 93 C486.37 90.8 485.17 88.6 484.5 86.4 C483.83 84.2 483.58 82.02 483.8 79.8 C484.02 77.58 484.8 75.42 485.8 73.1 C486.8 70.78 488.83 67.52 489.8 65.9 C490.77 64.28 491.3 63.82 491.6 63.4 Z" fill="#f0ee3c" stroke="none" stroke-width="0" />
<rect x="468.6" y="128.9" width="4.2" height="3.6" fill="#fffef0" stroke="none" stroke-width="1" />
<clipPath id="hz"><path d="M511 47.7 C509.78 48.73 506.23 51.98 503.7 53.9 C501.17 55.82 498.12 57.2 495.8 59.2 C493.48 61.2 491.47 63.58 489.8 65.9 C488.13 68.22 486.8 70.78 485.8 73.1 C484.8 75.42 484.02 77.58 483.8 79.8 C483.58 82.02 483.83 84.2 484.5 86.4 C485.17 88.6 486.37 90.8 487.8 93 C489.23 95.2 491.45 97.7 493.1 99.6 C494.75 101.5 495.93 102.7 497.7 104.4 C499.47 106.1 501.15 107.22 503.7 109.8 C506.25 112.38 509.9 116.78 513 119.9 C516.1 123.02 519.23 125.97 522.3 128.5 C525.37 131.03 529.88 134 531.4 135.1 L531.4 135.1 L557 131.2 L561.4 128 L563.6 122 L569.1 115.4 L574 108 L570.8 101.6 L574 93.3 L568 87.7 L565.2 81.1 L557.5 75.2 L551.5 70.4 L545.4 65.5 L535.5 63.3 L530.5 58.9 L526.5 54 L522 49.5 L511 47.7 Z"/></clipPath>
<path d="M470 55.01 L600 12.11 M470 61.07 L600 18.17 M470 67.13 L600 24.23 M470 73.19 L600 30.29 M470 79.25 L600 36.35 M470 85.31 L600 42.41 M470 91.37 L600 48.47 M470 97.43 L600 54.53 M470 103.49 L600 60.59 M470 109.55 L600 66.65 M470 115.61 L600 72.71 M470 121.67 L600 78.77 M470 127.73 L600 84.83 M470 133.79 L600 90.89 M470 139.85 L600 96.95 M470 145.91 L600 103.01 M470 151.97 L600 109.07 M470 158.03 L600 115.13 M470 164.09 L600 121.19 M470 170.15 L600 127.25" fill="none" stroke="#d0a691" stroke-width="0.75" clip-path="url(#hz)"/>
<path d="M419.9 53 C418.78 54.15 415.08 56.98 413.2 59.9 C411.32 62.82 409.7 66.53 408.6 70.5 C407.5 74.47 406.82 79.28 406.6 83.7 C406.38 88.12 406.63 93.62 407.3 97 C407.97 100.38 409.55 102.08 410.6 104 C411.65 105.92 411.83 106.27 413.6 108.5 C415.37 110.73 418.17 114.43 421.2 117.4 C424.23 120.37 428.67 123.83 431.8 126.3 C434.93 128.77 436.47 129.98 440 132.2 C443.53 134.42 448.67 137.53 453 139.6 C457.33 141.67 461.5 143.32 466 144.6 C470.5 145.88 476.27 146.63 480 147.3 C483.73 147.97 487 148.38 488.4 148.6" fill="none" stroke="#242424" stroke-width="0.98" />
<path d="M505.8 151 C506.92 151.13 510.63 151.72 512.5 151.8 C514.37 151.88 514.82 151.87 517 151.5 C519.18 151.13 523.43 150.25 525.6 149.6 C527.77 148.95 528.53 148.6 530 147.6 C531.47 146.6 532.9 145.43 534.4 143.6 C535.9 141.77 537.75 139.1 539 136.6 C540.25 134.1 541.13 131.78 541.9 128.6 C542.67 125.42 543.05 122.17 543.6 117.5 C544.15 112.83 544.93 103.42 545.2 100.6" fill="none" stroke="#242424" stroke-width="0.98" />
<path d="M423.8 117.2 C422.92 115.65 419.97 110.77 418.5 107.9 C417.03 105.03 415.98 104.03 415 100 C414.02 95.97 412.57 88.4 412.6 83.7 C412.63 79 413.77 75.1 415.2 71.8 C416.63 68.5 418.88 65.88 421.2 63.9 C423.52 61.92 426.02 60.95 429.1 59.9 C432.18 58.85 435.72 58.15 439.7 57.6 C443.68 57.05 448.58 56.83 453 56.6 C457.42 56.37 461.7 56.2 466.2 56.2 C470.7 56.2 476.62 56.47 480 56.6 C483.38 56.73 483.65 56.72 486.5 57 C489.35 57.28 493.78 57.77 497.1 58.3 C500.42 58.83 502.58 59.38 506.4 60.2 C510.22 61.02 516 62.37 520 63.2 C524 64.03 526.97 64.37 530.4 65.2 C533.83 66.03 537.25 66.88 540.6 68.2 C543.95 69.52 547.87 71.17 550.5 73.1 C553.13 75.03 555.03 77.15 556.4 79.8 C557.77 82.45 558.25 85.63 558.7 89 C559.15 92.37 559.18 96.42 559.1 100 C559.02 103.58 558.35 108.75 558.2 110.5" fill="none" stroke="#242424" stroke-width="0.98" stroke-dasharray="6 2.4"/>
<path d="M545.6 126.5 C545.25 126.8 544.95 126.72 543.5 128.3 C542.05 129.88 539.48 133.43 536.9 136 C534.32 138.57 531.32 140.93 528 143.7 C524.68 146.47 520.67 149.55 517 152.6 C513.33 155.65 509.3 159.07 506 162 C502.7 164.93 498.67 168.83 497.2 170.2" fill="none" stroke="#242424" stroke-width="0.98" stroke-dasharray="6 2.4"/>
<path d="M466 138.6 C465.2 138.35 463.77 138.08 461.2 137.1 C458.63 136.12 454.13 134.53 450.6 132.7 C447.07 130.87 443.13 128.47 440 126.1 C436.87 123.73 434.5 121.53 431.8 118.5 C429.1 115.47 425.83 110.98 423.8 107.9 C421.77 104.82 420.58 102.48 419.6 100 C418.62 97.52 418.18 95.72 417.9 93 C417.62 90.28 417.23 87.02 417.9 83.7 C418.57 80.38 420.13 76.18 421.9 73.1 C423.67 70.02 425.97 67.4 428.5 65.2 C431.03 63 434.35 61.23 437.1 59.9 C439.85 58.57 441.92 57.95 445 57.2 C448.08 56.45 452.07 55.95 455.6 55.4 C459.13 54.85 463.27 54.27 466.2 53.9 C469.13 53.53 469.82 53.08 473.2 53.2 C476.58 53.32 482.73 53.82 486.5 54.6 C490.27 55.38 492.48 56.35 495.8 57.9 C499.12 59.45 503.1 61.58 506.4 63.9 C509.7 66.22 512.73 68.93 515.6 71.8 C518.47 74.67 521.38 78 523.6 81.1 C525.82 84.2 527.62 87.25 528.9 90.4 C530.18 93.55 530.97 96.63 531.3 100 C531.63 103.37 531.28 106.97 530.9 110.6 C530.52 114.23 529.62 118.9 529 121.8 C528.38 124.7 527.88 125.93 527.2 128 C526.52 130.07 525.85 132.32 524.9 134.2 C523.95 136.08 523.18 137.87 521.5 139.3 C519.82 140.73 517.38 142.1 514.8 142.8 C512.22 143.5 508.57 143.57 506 143.5 C503.43 143.43 501.5 142.65 499.4 142.4 C497.3 142.15 494.4 142.07 493.4 142" fill="none" stroke="#242424" stroke-width="0.98" />
<path d="M514.2 112 C514.1 113.33 514.05 117.5 513.6 120 C513.15 122.5 512.52 124.92 511.5 127 C510.48 129.08 508.17 131.58 507.5 132.5" fill="none" stroke="#242424" stroke-width="0.98" />
<path d="M512.2 95 C512 94 511.75 91.32 511 89 C510.25 86.68 509.13 83.52 507.7 81.1 C506.27 78.68 504.38 76.38 502.4 74.5 C500.42 72.62 498.12 71.08 495.8 69.8 C493.48 68.52 490.72 67.57 488.5 66.8 C486.28 66.03 485.05 65.65 482.5 65.2 C479.95 64.75 475.92 64.37 473.2 64.1 C470.48 63.83 468.4 63.63 466.2 63.6 C464 63.57 462.2 63.75 460 63.9 C457.8 64.05 455.72 63.95 453 64.5 C450.28 65.05 446.57 65.87 443.7 67.2 C440.83 68.53 438 70.4 435.8 72.5 C433.6 74.6 431.78 77.05 430.5 79.8 C429.22 82.55 428.43 86.13 428.1 89 C427.77 91.87 428.07 95 428.5 97 C428.93 99 429.72 99.18 430.7 101 C431.68 102.82 432.85 105.77 434.4 107.9 C435.95 110.03 437.75 111.68 440 113.8 C442.25 115.92 445.03 118.55 447.9 120.6 C450.77 122.65 454.1 124.67 457.2 126.1 C460.3 127.53 463.85 128.47 466.5 129.2 C469.15 129.93 472 130.28 473.1 130.5" fill="none" stroke="#242424" stroke-width="0.98" />
<path d="M473.1 130.5 C474.2 130.62 476.83 131.08 479.7 131.2 C482.57 131.32 486.98 131.4 490.3 131.2 C493.62 131 496.65 130.57 499.6 130 C502.55 129.43 505.43 128.67 508 127.8 C510.57 126.93 512.87 125.8 515 124.8 C517.13 123.8 519.83 122.3 520.8 121.8" fill="none" stroke="#242424" stroke-width="0.98" stroke-dasharray="5 2.4"/>
<path d="M450.6 75 C451.88 74.77 455.25 73.87 458.3 73.6 C461.35 73.33 465.53 73 468.9 73.4 C472.27 73.8 475.9 74.98 478.5 76 C481.1 77.02 482.83 78.22 484.5 79.5 C486.17 80.78 487.17 81.88 488.5 83.7 C489.83 85.52 491.4 88.18 492.5 90.4 C493.6 92.62 494.42 95.02 495.1 97 C495.78 98.98 496.07 99.98 496.6 102.3 C497.13 104.62 498.13 108.15 498.3 110.9 C498.47 113.65 498.27 116.48 497.6 118.8 C496.93 121.12 495.95 123.35 494.3 124.8 C492.65 126.25 490.13 126.95 487.7 127.5 C485.27 128.05 482.35 128.22 479.7 128.1 C477.05 127.98 474 127.35 471.8 126.8 C469.6 126.25 468.93 125.8 466.5 124.8 C464.07 123.8 460.3 122.45 457.2 120.8 C454.1 119.15 450.48 117.23 447.9 114.9 C445.32 112.57 443.43 109.12 441.7 106.8 C439.97 104.48 438.48 103.08 437.5 101 C436.52 98.92 435.88 96.37 435.8 94.3 C435.72 92.23 436.8 89.55 437 88.6" fill="none" stroke="#242424" stroke-width="0.98" />
<path d="M471.8 126.8 C470.92 126.47 468.93 125.8 466.5 124.8 C464.07 123.8 460.3 122.45 457.2 120.8 C454.1 119.15 450.27 116.93 447.9 114.9 C445.53 112.87 443.82 109.65 443 108.6" fill="none" stroke="#3a3a20" stroke-width="1.9" stroke-dasharray="3.2 1.1"/>
<path d="M448 112 C447.33 111 444.93 107.83 444 106 C443.07 104.17 442.33 102.95 442.4 101 C442.47 99.05 443.3 96.4 444.4 94.3 C445.5 92.2 447.13 90.17 449 88.4 C450.87 86.63 453.17 84.92 455.6 83.7 C458.03 82.48 460.95 81.78 463.6 81.1 C466.25 80.42 468.77 79.93 471.5 79.6 C474.23 79.27 477.95 79.22 480 79.1 C482.05 78.98 481.62 78.83 483.8 78.9 C485.98 78.97 489.78 79.13 493.1 79.5 C496.42 79.87 500.38 80.5 503.7 81.1 C507.02 81.7 509.9 82.33 513 83.1 C516.1 83.87 519.43 84.6 522.3 85.7 C525.17 86.8 528 88.03 530.2 89.7 C532.4 91.37 534.13 93.73 535.5 95.7 C536.87 97.67 537.92 100.53 538.4 101.5" fill="none" stroke="#242424" stroke-width="0.98" stroke-dasharray="6 2.4"/>
<path d="M470.5 108.2 C471.38 107.93 474.32 107.7 475.8 106.6 C477.28 105.5 478.62 103.1 479.4 101.6 C480.18 100.1 480.45 99.03 480.5 97.6 C480.55 96.17 480.25 94.5 479.7 93 C479.15 91.5 478.4 89.9 477.2 88.6 C476 87.3 474.37 86.07 472.5 85.2 C470.63 84.33 468.17 83.53 466 83.4 C463.83 83.27 461.33 83.6 459.5 84.4 C457.67 85.2 456.03 86.7 455 88.2 C453.97 89.7 453.48 91.77 453.3 93.4 C453.12 95.03 453.8 97.23 453.9 98" fill="none" stroke="#242424" stroke-width="0.98" />
<path d="M557.7 52.6 C558.7 54.03 561.6 58 563.7 61.2 C565.8 64.4 568.32 68.27 570.3 71.8 C572.28 75.33 574.27 78.87 575.6 82.4 C576.93 85.93 577.75 89.73 578.3 93 C578.85 96.27 579.35 99.07 578.9 102 C578.45 104.93 577.25 107.4 575.6 110.6 C573.95 113.8 571.03 118.2 569 121.2 C566.97 124.2 564.33 127.37 563.4 128.6" fill="none" stroke="#242424" stroke-width="0.98" stroke-dasharray="6 2.4"/>
<path d="M551 144 C549.02 146.17 543.1 152.63 539.1 157 C535.1 161.37 529.02 168 527 170.2" fill="none" stroke="#242424" stroke-width="0.98" stroke-dasharray="6 2.4"/>
<path d="M594.2 79.8 C594.53 81.33 595.87 85.63 596.2 89 C596.53 92.37 596.77 96.18 596.2 100 C595.63 103.82 594.47 107.93 592.8 111.9 C591.13 115.87 588.62 120.05 586.2 123.8 C583.78 127.55 580.28 131.8 578.3 134.4 C576.32 137 574.97 138.57 574.3 139.4" fill="none" stroke="#242424" stroke-width="0.98" stroke-dasharray="6 2.4"/>
<path d="M562.4 154.4 C561.17 155.75 557.42 159.68 555 162.5 C552.58 165.32 549.08 169.83 547.9 171.3" fill="none" stroke="#242424" stroke-width="0.98" stroke-dasharray="6 2.4"/>
<path d="M491.6 63.4 C490.3 63 486.87 61.58 483.8 61 C480.73 60.42 477.17 60.1 473.2 59.9 C469.23 59.7 463.37 59.8 460 59.8 C456.63 59.8 455.93 59.55 453 59.9 C450.07 60.25 445.5 60.9 442.4 61.9 C439.3 62.9 436.72 64.25 434.4 65.9 C432.08 67.55 430.15 69.27 428.5 71.8 C426.85 74.33 425.32 77.78 424.5 81.1 C423.68 84.42 423.57 88.47 423.6 91.7 C423.63 94.93 423.88 97.57 424.7 100.5 C425.52 103.43 426.72 106.35 428.5 109.3 C430.28 112.25 433.32 115.92 435.4 118.2 C437.48 120.48 438.47 121.27 441 123 C443.53 124.73 447.23 126.98 450.6 128.6 C453.97 130.22 457.45 131.67 461.2 132.7 C464.95 133.73 468.9 134.25 473.1 134.8 C477.3 135.35 481.98 135.83 486.4 136 C490.82 136.17 495.85 136.12 499.6 135.8 C503.35 135.48 505.83 134.87 508.9 134.1 C511.97 133.33 515.58 131.98 518 131.2 C520.42 130.42 522.5 129.7 523.4 129.4" fill="none" stroke="#1c56a6" stroke-width="2" stroke-dasharray="4.4 2.2"/>
<path d="M511 47.7 C509.78 48.73 506.23 51.98 503.7 53.9 C501.17 55.82 498.12 57.2 495.8 59.2 C493.48 61.2 491.47 63.58 489.8 65.9 C488.13 68.22 486.8 70.78 485.8 73.1 C484.8 75.42 484.02 77.58 483.8 79.8 C483.58 82.02 483.83 84.2 484.5 86.4 C485.17 88.6 486.37 90.8 487.8 93 C489.23 95.2 491.45 97.7 493.1 99.6 C494.75 101.5 495.93 102.7 497.7 104.4 C499.47 106.1 501.15 107.22 503.7 109.8 C506.25 112.38 509.9 116.78 513 119.9 C516.1 123.02 519.23 125.97 522.3 128.5 C525.37 131.03 529.88 134 531.4 135.1" fill="none" stroke="#bd5820" stroke-width="1.7" />
<path d="M420.8 39.8 L447.9 71 L466.7 93.1 L506 134.9 L527.5 157" fill="none" stroke="#141414" stroke-width="1.1" />
<text x="415.9" y="39.6" font-family='"Liberation Serif", serif' font-size="9.5" font-weight="normal" fill="#333" text-anchor="middle" >I</text>
<text x="524.6" y="165.2" font-family='"Liberation Serif", serif' font-size="9.5" font-weight="normal" fill="#333" text-anchor="middle" >I</text>
<circle cx="447.9" cy="71" r="2" fill="#1d4fb0" stroke="none" stroke-width="1"/>
<circle cx="466.7" cy="93.1" r="2" fill="#1d4fb0" stroke="none" stroke-width="1"/>
<circle cx="460" cy="128" r="2" fill="#1d4fb0" stroke="none" stroke-width="1"/>
<circle cx="456" cy="144" r="2" fill="#1d4fb0" stroke="none" stroke-width="1"/>
<circle cx="506" cy="134.9" r="2" fill="#1d4fb0" stroke="none" stroke-width="1"/>
<circle cx="520.3" cy="109.3" r="2" fill="#1d4fb0" stroke="none" stroke-width="1"/>
<text x="453.4" y="71.4" font-family='"Liberation Serif", serif' font-size="4.8" font-weight="bold" fill="#5a6f9a" text-anchor="start" textLength="9" lengthAdjust="spacingAndGlyphs" >714</text>
<text x="464.8" y="98.8" font-family='"Liberation Serif", serif' font-size="4.8" font-weight="bold" fill="#5a6f9a" text-anchor="start" textLength="8.4" lengthAdjust="spacingAndGlyphs" >712</text>
<text x="465.2" y="142.6" font-family='"Liberation Serif", serif' font-size="4.8" font-weight="bold" fill="#5a6f9a" text-anchor="start" textLength="8.6" lengthAdjust="spacingAndGlyphs" >708</text>
<text x="460" y="150" font-family='"Liberation Serif", serif' font-size="4.8" font-weight="bold" fill="#5a6f9a" text-anchor="start" textLength="8.6" lengthAdjust="spacingAndGlyphs" >710</text>
<text x="501.2" y="142.4" font-family='"Liberation Serif", serif' font-size="4.8" font-weight="bold" fill="#5a6f9a" text-anchor="start" textLength="8" lengthAdjust="spacingAndGlyphs" >711</text>
<text x="516.3" y="115.6" font-family='"Liberation Serif", serif' font-size="4.8" font-weight="bold" fill="#5a6f9a" text-anchor="start" textLength="8.6" lengthAdjust="spacingAndGlyphs" >713</text>
<text x="0" y="0" transform="translate(439.6,88.4) rotate(-50)" font-family='"Liberation Serif", serif' font-size="7.9" font-weight="bold" fill="#141414" text-anchor="start" textLength="14.8" lengthAdjust="spacingAndGlyphs" >-3175</text>
<text x="0" y="0" transform="translate(452.4,101.6) rotate(32.5)" font-family='"Liberation Serif", serif' font-size="8.3" font-weight="bold" fill="#141414" text-anchor="start" textLength="17.3" lengthAdjust="spacingAndGlyphs" >-3150</text>
<text x="0" y="0" transform="translate(516.4,110.8) rotate(-84)" font-family='"Liberation Serif", serif' font-size="7.9" font-weight="bold" fill="#141414" text-anchor="start" textLength="15.4" lengthAdjust="spacingAndGlyphs" >-3200</text>
<text x="0" y="0" transform="translate(536.6,119.6) rotate(-71)" font-family='"Liberation Serif", serif' font-size="7.9" font-weight="bold" fill="#141414" text-anchor="start" textLength="15.2" lengthAdjust="spacingAndGlyphs" >-3200</text>
<text x="0" y="0" transform="translate(548.2,130) rotate(-54.7)" font-family='"Liberation Serif", serif' font-size="7.9" font-weight="bold" fill="#141414" text-anchor="start" textLength="16.4" lengthAdjust="spacingAndGlyphs" >-3300</text>
<text x="0" y="0" transform="translate(553.4,144.6) rotate(-50.5)" font-family='"Liberation Serif", serif' font-size="7.9" font-weight="bold" fill="#141414" text-anchor="start" textLength="15.7" lengthAdjust="spacingAndGlyphs" >-3400</text>
<text x="0" y="0" transform="translate(565,155.4) rotate(-52.3)" font-family='"Liberation Serif", serif' font-size="7.9" font-weight="bold" fill="#141414" text-anchor="start" textLength="15" lengthAdjust="spacingAndGlyphs" >-3500</text>
<text x="0" y="0" transform="translate(475.6,142.6) rotate(4)" font-family='"Liberation Serif", serif' font-size="8.3" font-weight="bold" fill="#141414" text-anchor="start" textLength="16.2" lengthAdjust="spacingAndGlyphs" >-3225</text>
<text x="0" y="0" transform="translate(489.4,151.6) rotate(8)" font-family='"Liberation Serif", serif' font-size="8.3" font-weight="bold" fill="#141414" text-anchor="start" textLength="16" lengthAdjust="spacingAndGlyphs" >-3250</text>
<text x="392.6" y="204.7" font-family='"Liberation Serif", serif' font-size="11.7" font-weight="bold" fill="#161616" text-anchor="start" textLength="196.6" lengthAdjust="spacingAndGlyphs" >Геологический профиль по линии I-I</text>
<clipPath id="pc"><rect x="374.3" y="228.4" width="226.2" height="193.4"/></clipPath>
<g clip-path="url(#pc)">
<rect x="374.3" y="228.4" width="226.2" height="193.4" fill="#fbb877" stroke="none" stroke-width="1" />
<path d="M374.4 390.8 C375.47 390.45 378.78 389.42 380.8 388.7 C382.82 387.98 383.17 387.52 386.5 386.5 C389.83 385.48 396.02 383.75 400.8 382.6 C405.58 381.45 410.42 380.43 415.2 379.6 C419.98 378.77 424.53 378.23 429.5 377.6 C434.47 376.97 439.82 376.28 445 375.8 C450.18 375.32 455.6 374.85 460.6 374.7 C465.6 374.55 471.27 374.75 475 374.9 C478.73 375.05 478.68 375.08 483 375.6 C487.32 376.12 494.93 377.03 500.9 378 C506.87 378.97 513.18 380.35 518.8 381.4 C524.42 382.45 529.73 383.47 534.6 384.3 C539.47 385.13 541.43 384.92 548 386.4 C554.57 387.88 565.25 390.93 574 393.2 C582.75 395.47 596.08 398.87 600.5 400 L600.5 423.8 C562.8 423.8 412 423.8 374.3 423.8 Z" fill="#f49c3e" stroke="none" stroke-width="0" />
<path d="M374.4 386.5 C376.42 385.9 382.1 384.1 386.5 382.9 C390.9 381.7 396.02 380.37 400.8 379.3 C405.58 378.23 410.42 377.33 415.2 376.5 C419.98 375.67 424.53 374.97 429.5 374.3 C434.47 373.63 439.82 372.97 445 372.5 C450.18 372.03 455.6 371.63 460.6 371.5 C465.6 371.37 471.27 371.55 475 371.7 C478.73 371.85 478.68 371.83 483 372.4 C487.32 372.97 494.93 374.05 500.9 375.1 C506.87 376.15 513.18 377.57 518.8 378.7 C524.42 379.83 529.73 380.93 534.6 381.9 C539.47 382.87 541.43 383.03 548 384.5 C554.57 385.97 565.25 388.63 574 390.7 C582.75 392.77 596.08 395.87 600.5 396.9 L600.5 400 C596.08 398.87 582.75 395.47 574 393.2 C565.25 390.93 554.57 387.88 548 386.4 C541.43 384.92 539.47 385.13 534.6 384.3 C529.73 383.47 524.42 382.45 518.8 381.4 C513.18 380.35 506.87 378.97 500.9 378 C494.93 377.03 487.32 376.12 483 375.6 C478.68 375.08 478.73 375.05 475 374.9 C471.27 374.75 465.6 374.55 460.6 374.7 C455.6 374.85 450.18 375.32 445 375.8 C439.82 376.28 434.47 376.97 429.5 377.6 C424.53 378.23 419.98 378.77 415.2 379.6 C410.42 380.43 405.58 381.45 400.8 382.6 C396.02 383.75 389.83 385.48 386.5 386.5 C383.17 387.52 382.82 387.98 380.8 388.7 C378.78 389.42 375.47 390.45 374.4 390.8 Z" fill="#f8bd7e" stroke="none" stroke-width="0" />
<rect x="374.3" y="228.4" width="226.2" height="9" fill="#f4ec55" stroke="none" stroke-width="1" />
<path d="M374.3 237.6 C412 237.6 562.8 237.6 600.5 237.6 L600.5 254.6 C596.25 254.32 585.92 253.28 575 252.9 C564.08 252.52 547.5 252.62 535 252.3 C522.5 251.98 512.33 251.42 500 251 C487.67 250.58 473.67 249.98 461 249.8 C448.33 249.62 438.43 249.88 424 249.9 C409.57 249.92 382.67 249.9 374.4 249.9 Z" fill="#d2ecf6" stroke="none" stroke-width="0" />
<path d="M374.4 249.9 C382.67 249.9 409.57 249.92 424 249.9 C438.43 249.88 448.33 249.62 461 249.8 C473.67 249.98 487.67 250.58 500 251 C512.33 251.42 522.5 251.98 535 252.3 C547.5 252.62 564.08 252.52 575 252.9 C585.92 253.28 596.25 254.32 600.5 254.6 L600.5 265 C595.42 264.82 580.92 264.37 570 263.9 C559.08 263.43 546.67 262.92 535 262.2 C523.33 261.48 510 260.37 500 259.6 C490 258.83 483.18 257.95 475 257.6 C466.82 257.25 458.78 257.35 450.9 257.5 C443.02 257.65 435.43 258.18 427.7 258.5 C419.97 258.82 413.38 258.98 404.5 259.4 C395.62 259.82 379.42 260.73 374.4 261 Z" fill="#b8e0ef" stroke="none" stroke-width="0" />
<path d="M374.4 261 C379.42 260.73 395.62 259.82 404.5 259.4 C413.38 258.98 419.97 258.82 427.7 258.5 C435.43 258.18 443.02 257.65 450.9 257.5 C458.78 257.35 466.82 257.25 475 257.6 C483.18 257.95 490 258.83 500 259.6 C510 260.37 523.33 261.48 535 262.2 C546.67 262.92 559.08 263.43 570 263.9 C580.92 264.37 595.42 264.82 600.5 265 L600.5 280.32 C600.38 280.36 600.26 280.46 599.8 280.58 C599.34 280.71 598.43 281.1 597.75 281.08 C597.07 281.06 596.38 280.68 595.7 280.48 C595.02 280.27 594.33 279.89 593.65 279.87 C592.97 279.85 592.28 280.2 591.6 280.37 C590.92 280.53 590.23 280.88 589.55 280.87 C588.87 280.85 588.18 280.46 587.5 280.26 C586.82 280.06 586.13 279.68 585.45 279.66 C584.77 279.64 584.08 279.99 583.4 280.16 C582.72 280.32 582.03 280.67 581.35 280.65 C580.67 280.64 579.98 280.25 579.3 280.05 C578.62 279.85 577.93 279.46 577.25 279.45 C576.57 279.43 575.88 279.78 575.2 279.94 C574.52 280.11 573.83 280.46 573.15 280.44 C572.47 280.42 571.78 280.04 571.1 279.84 C570.42 279.64 569.73 279.25 569.05 279.23 C568.37 279.22 567.68 279.56 567 279.73 C566.32 279.9 565.63 280.25 564.95 280.23 C564.27 280.21 563.58 279.83 562.9 279.62 C562.22 279.42 561.53 279.04 560.85 279.02 C560.17 279 559.48 279.35 558.8 279.52 C558.12 279.68 557.43 280.03 556.75 280.01 C556.07 280 555.38 279.61 554.7 279.41 C554.02 279.21 553.33 278.83 552.65 278.81 C551.97 278.79 551.28 279.14 550.6 279.3 C549.92 279.47 549.23 279.82 548.55 279.8 C547.87 279.78 547.18 279.4 546.5 279.2 C545.82 279 545.13 278.61 544.45 278.6 C543.77 278.58 543.08 278.93 542.4 279.09 C541.72 279.26 541.03 279.61 540.35 279.59 C539.67 279.57 538.98 279.19 538.3 278.99 C537.62 278.78 536.93 278.4 536.25 278.38 C535.57 278.36 534.88 278.71 534.2 278.86 C533.52 279.02 532.83 279.35 532.15 279.32 C531.47 279.29 530.78 278.89 530.1 278.67 C529.42 278.46 528.73 278.06 528.05 278.03 C527.37 278 526.68 278.33 526 278.49 C525.32 278.64 524.63 278.97 523.95 278.94 C523.27 278.91 522.58 278.51 521.9 278.3 C521.22 278.08 520.53 277.69 519.85 277.65 C519.17 277.62 518.48 277.96 517.8 278.11 C517.12 278.26 516.43 278.6 515.75 278.57 C515.07 278.53 514.38 278.14 513.7 277.92 C513.02 277.71 512.33 277.31 511.65 277.28 C510.97 277.25 510.28 277.58 509.6 277.73 C508.92 277.88 508.23 278.22 507.55 278.19 C506.87 278.16 506.18 277.76 505.5 277.54 C504.82 277.33 504.13 276.93 503.45 276.9 C502.77 276.87 502.08 277.2 501.4 277.36 C500.72 277.51 500.03 277.84 499.35 277.81 C498.67 277.78 497.98 277.38 497.3 277.17 C496.62 276.95 495.93 276.56 495.25 276.52 C494.57 276.49 493.88 276.83 493.2 276.98 C492.52 277.13 491.83 277.47 491.15 277.44 C490.47 277.4 489.78 277.01 489.1 276.79 C488.42 276.58 487.73 276.18 487.05 276.15 C486.37 276.12 485.68 276.45 485 276.6 C484.32 276.75 483.63 277.09 482.95 277.06 C482.27 277.03 481.58 276.63 480.9 276.41 C480.22 276.2 479.53 275.8 478.85 275.77 C478.17 275.74 477.48 276.07 476.8 276.23 C476.12 276.38 475.43 276.71 474.75 276.68 C474.07 276.65 473.38 276.25 472.7 276.04 C472.02 275.82 471.33 275.42 470.65 275.39 C469.97 275.36 469.28 275.7 468.6 275.85 C467.92 276 467.23 276.34 466.55 276.31 C465.87 276.27 465.18 275.88 464.5 275.66 C463.82 275.45 463.13 275.05 462.45 275.02 C461.77 274.99 461.08 275.32 460.4 275.49 C459.72 275.65 459.03 276.01 458.35 276 C457.67 275.99 456.98 275.61 456.3 275.41 C455.62 275.22 454.93 274.84 454.25 274.83 C453.57 274.81 452.88 275.17 452.2 275.34 C451.52 275.51 450.83 275.86 450.15 275.85 C449.47 275.84 448.78 275.46 448.1 275.26 C447.42 275.07 446.73 274.69 446.05 274.67 C445.37 274.66 444.68 275.02 444 275.19 C443.32 275.36 442.63 275.71 441.95 275.7 C441.27 275.69 440.58 275.31 439.9 275.11 C439.22 274.91 438.53 274.53 437.85 274.52 C437.17 274.51 436.48 274.86 435.8 275.03 C435.12 275.21 434.43 275.56 433.75 275.55 C433.07 275.53 432.38 275.15 431.7 274.96 C431.02 274.76 430.33 274.38 429.65 274.37 C428.97 274.36 428.28 274.71 427.6 274.88 C426.92 275.05 426.23 275.41 425.55 275.4 C424.87 275.38 424.18 275 423.5 274.81 C422.82 274.61 422.13 274.23 421.45 274.22 C420.77 274.21 420.08 274.56 419.4 274.73 C418.72 274.9 418.03 275.26 417.35 275.24 C416.67 275.23 415.98 274.85 415.3 274.66 C414.62 274.46 413.93 274.08 413.25 274.07 C412.57 274.06 411.88 274.41 411.2 274.58 C410.52 274.75 409.83 275.1 409.15 275.09 C408.47 275.08 407.78 274.7 407.1 274.5 C406.42 274.31 405.73 273.93 405.05 273.92 C404.37 273.9 403.68 274.26 403 274.43 C402.32 274.6 401.63 274.95 400.95 274.94 C400.27 274.93 399.58 274.55 398.9 274.35 C398.22 274.16 397.53 273.78 396.85 273.76 C396.17 273.75 395.48 274.11 394.8 274.28 C394.12 274.45 393.43 274.8 392.75 274.79 C392.07 274.78 391.38 274.4 390.7 274.2 C390.02 274.01 389.33 273.63 388.65 273.61 C387.97 273.6 387.28 273.95 386.6 274.13 C385.92 274.3 385.23 274.65 384.55 274.64 C383.87 274.62 383.18 274.25 382.5 274.05 C381.82 273.85 381.13 273.47 380.45 273.46 C379.77 273.45 379.08 273.8 378.4 273.97 C377.72 274.14 377.03 274.5 376.35 274.49 C375.67 274.47 374.64 274 374.3 273.9 Z" fill="#e3a8d8" stroke="none" stroke-width="0" />
<path d="M370.6 237.45 q2.12 -1.2 4.25 0 t4.25 0 t4.25 0 t4.25 0 t4.25 0 t4.25 0 t4.25 0 t4.25 0 t4.25 0 t4.25 0 t4.25 0 t4.25 0 t4.25 0 t4.25 0 t4.25 0 t4.25 0 t4.25 0 t4.25 0 t4.25 0 t4.25 0 t4.25 0 t4.25 0 t4.25 0 t4.25 0 t4.25 0 t4.25 0 t4.25 0 t4.25 0 t4.25 0 t4.25 0 t4.25 0 t4.25 0 t4.25 0 t4.25 0 t4.25 0 t4.25 0 t4.25 0 t4.25 0 t4.25 0 t4.25 0 t4.25 0 t4.25 0 t4.25 0 t4.25 0 t4.25 0 t4.25 0 t4.25 0 t4.25 0 t4.25 0 t4.25 0 t4.25 0 t4.25 0 t4.25 0 t4.25 0 t4.25 0" fill="none" stroke="#ffffff" stroke-width="2.9" />
<path d="M370.6 236 q2.12 -1.2 4.25 0 t4.25 0 t4.25 0 t4.25 0 t4.25 0 t4.25 0 t4.25 0 t4.25 0 t4.25 0 t4.25 0 t4.25 0 t4.25 0 t4.25 0 t4.25 0 t4.25 0 t4.25 0 t4.25 0 t4.25 0 t4.25 0 t4.25 0 t4.25 0 t4.25 0 t4.25 0 t4.25 0 t4.25 0 t4.25 0 t4.25 0 t4.25 0 t4.25 0 t4.25 0 t4.25 0 t4.25 0 t4.25 0 t4.25 0 t4.25 0 t4.25 0 t4.25 0 t4.25 0 t4.25 0 t4.25 0 t4.25 0 t4.25 0 t4.25 0 t4.25 0 t4.25 0 t4.25 0 t4.25 0 t4.25 0 t4.25 0 t4.25 0 t4.25 0 t4.25 0 t4.25 0 t4.25 0 t4.25 0" fill="none" stroke="#4a4a30" stroke-width="0.8" />
<path d="M370.6 238.9 q2.12 -1.2 4.25 0 t4.25 0 t4.25 0 t4.25 0 t4.25 0 t4.25 0 t4.25 0 t4.25 0 t4.25 0 t4.25 0 t4.25 0 t4.25 0 t4.25 0 t4.25 0 t4.25 0 t4.25 0 t4.25 0 t4.25 0 t4.25 0 t4.25 0 t4.25 0 t4.25 0 t4.25 0 t4.25 0 t4.25 0 t4.25 0 t4.25 0 t4.25 0 t4.25 0 t4.25 0 t4.25 0 t4.25 0 t4.25 0 t4.25 0 t4.25 0 t4.25 0 t4.25 0 t4.25 0 t4.25 0 t4.25 0 t4.25 0 t4.25 0 t4.25 0 t4.25 0 t4.25 0 t4.25 0 t4.25 0 t4.25 0 t4.25 0 t4.25 0 t4.25 0 t4.25 0 t4.25 0 t4.25 0 t4.25 0" fill="none" stroke="#3e525c" stroke-width="0.8" />
<path d="M374.4 249.9 C382.67 249.9 409.57 249.92 424 249.9 C438.43 249.88 448.33 249.62 461 249.8 C473.67 249.98 487.67 250.58 500 251 C512.33 251.42 522.5 251.98 535 252.3 C547.5 252.62 564.08 252.52 575 252.9 C585.92 253.28 596.25 254.32 600.5 254.6" fill="none" stroke="#1e282e" stroke-width="1" />
<path d="M374.4 261 C379.42 260.73 395.62 259.82 404.5 259.4 C413.38 258.98 419.97 258.82 427.7 258.5 C435.43 258.18 443.02 257.65 450.9 257.5 C458.78 257.35 466.82 257.25 475 257.6 C483.18 257.95 490 258.83 500 259.6 C510 260.37 523.33 261.48 535 262.2 C546.67 262.92 559.08 263.43 570 263.9 C580.92 264.37 595.42 264.82 600.5 265" fill="none" stroke="#1e282e" stroke-width="1" />
<path d="M374.3 273.9 C374.64 274 375.67 274.47 376.35 274.49 C377.03 274.5 377.72 274.14 378.4 273.97 C379.08 273.8 379.77 273.45 380.45 273.46 C381.13 273.47 381.82 273.85 382.5 274.05 C383.18 274.25 383.87 274.62 384.55 274.64 C385.23 274.65 385.92 274.3 386.6 274.13 C387.28 273.95 387.97 273.6 388.65 273.61 C389.33 273.63 390.02 274.01 390.7 274.2 C391.38 274.4 392.07 274.78 392.75 274.79 C393.43 274.8 394.12 274.45 394.8 274.28 C395.48 274.11 396.17 273.75 396.85 273.76 C397.53 273.78 398.22 274.16 398.9 274.35 C399.58 274.55 400.27 274.93 400.95 274.94 C401.63 274.95 402.32 274.6 403 274.43 C403.68 274.26 404.37 273.9 405.05 273.92 C405.73 273.93 406.42 274.31 407.1 274.5 C407.78 274.7 408.47 275.08 409.15 275.09 C409.83 275.1 410.52 274.75 411.2 274.58 C411.88 274.41 412.57 274.06 413.25 274.07 C413.93 274.08 414.62 274.46 415.3 274.66 C415.98 274.85 416.67 275.23 417.35 275.24 C418.03 275.26 418.72 274.9 419.4 274.73 C420.08 274.56 420.77 274.21 421.45 274.22 C422.13 274.23 422.82 274.61 423.5 274.81 C424.18 275 424.87 275.38 425.55 275.4 C426.23 275.41 426.92 275.05 427.6 274.88 C428.28 274.71 428.97 274.36 429.65 274.37 C430.33 274.38 431.02 274.76 431.7 274.96 C432.38 275.15 433.07 275.53 433.75 275.55 C434.43 275.56 435.12 275.21 435.8 275.03 C436.48 274.86 437.17 274.51 437.85 274.52 C438.53 274.53 439.22 274.91 439.9 275.11 C440.58 275.31 441.27 275.69 441.95 275.7 C442.63 275.71 443.32 275.36 444 275.19 C444.68 275.02 445.37 274.66 446.05 274.67 C446.73 274.69 447.42 275.07 448.1 275.26 C448.78 275.46 449.47 275.84 450.15 275.85 C450.83 275.86 451.52 275.51 452.2 275.34 C452.88 275.17 453.57 274.81 454.25 274.83 C454.93 274.84 455.62 275.22 456.3 275.41 C456.98 275.61 457.67 275.99 458.35 276 C459.03 276.01 459.72 275.65 460.4 275.49 C461.08 275.32 461.77 274.99 462.45 275.02 C463.13 275.05 463.82 275.45 464.5 275.66 C465.18 275.88 465.87 276.27 466.55 276.31 C467.23 276.34 467.92 276 468.6 275.85 C469.28 275.7 469.97 275.36 470.65 275.39 C471.33 275.42 472.02 275.82 472.7 276.04 C473.38 276.25 474.07 276.65 474.75 276.68 C475.43 276.71 476.12 276.38 476.8 276.23 C477.48 276.07 478.17 275.74 478.85 275.77 C479.53 275.8 480.22 276.2 480.9 276.41 C481.58 276.63 482.27 277.03 482.95 277.06 C483.63 277.09 484.32 276.75 485 276.6 C485.68 276.45 486.37 276.12 487.05 276.15 C487.73 276.18 488.42 276.58 489.1 276.79 C489.78 277.01 490.47 277.4 491.15 277.44 C491.83 277.47 492.52 277.13 493.2 276.98 C493.88 276.83 494.57 276.49 495.25 276.52 C495.93 276.56 496.62 276.95 497.3 277.17 C497.98 277.38 498.67 277.78 499.35 277.81 C500.03 277.84 500.72 277.51 501.4 277.36 C502.08 277.2 502.77 276.87 503.45 276.9 C504.13 276.93 504.82 277.33 505.5 277.54 C506.18 277.76 506.87 278.16 507.55 278.19 C508.23 278.22 508.92 277.88 509.6 277.73 C510.28 277.58 510.97 277.25 511.65 277.28 C512.33 277.31 513.02 277.71 513.7 277.92 C514.38 278.14 515.07 278.53 515.75 278.57 C516.43 278.6 517.12 278.26 517.8 278.11 C518.48 277.96 519.17 277.62 519.85 277.65 C520.53 277.69 521.22 278.08 521.9 278.3 C522.58 278.51 523.27 278.91 523.95 278.94 C524.63 278.97 525.32 278.64 526 278.49 C526.68 278.33 527.37 278 528.05 278.03 C528.73 278.06 529.42 278.46 530.1 278.67 C530.78 278.89 531.47 279.29 532.15 279.32 C532.83 279.35 533.52 279.02 534.2 278.86 C534.88 278.71 535.57 278.36 536.25 278.38 C536.93 278.4 537.62 278.78 538.3 278.99 C538.98 279.19 539.67 279.57 540.35 279.59 C541.03 279.61 541.72 279.26 542.4 279.09 C543.08 278.93 543.77 278.58 544.45 278.6 C545.13 278.61 545.82 279 546.5 279.2 C547.18 279.4 547.87 279.78 548.55 279.8 C549.23 279.82 549.92 279.47 550.6 279.3 C551.28 279.14 551.97 278.79 552.65 278.81 C553.33 278.83 554.02 279.21 554.7 279.41 C555.38 279.61 556.07 280 556.75 280.01 C557.43 280.03 558.12 279.68 558.8 279.52 C559.48 279.35 560.17 279 560.85 279.02 C561.53 279.04 562.22 279.42 562.9 279.62 C563.58 279.83 564.27 280.21 564.95 280.23 C565.63 280.25 566.32 279.9 567 279.73 C567.68 279.56 568.37 279.22 569.05 279.23 C569.73 279.25 570.42 279.64 571.1 279.84 C571.78 280.04 572.47 280.42 573.15 280.44 C573.83 280.46 574.52 280.11 575.2 279.94 C575.88 279.78 576.57 279.43 577.25 279.45 C577.93 279.46 578.62 279.85 579.3 280.05 C579.98 280.25 580.67 280.64 581.35 280.65 C582.03 280.67 582.72 280.32 583.4 280.16 C584.08 279.99 584.77 279.64 585.45 279.66 C586.13 279.68 586.82 280.06 587.5 280.26 C588.18 280.46 588.87 280.85 589.55 280.87 C590.23 280.88 590.92 280.53 591.6 280.37 C592.28 280.2 592.97 279.85 593.65 279.87 C594.33 279.89 595.02 280.27 595.7 280.48 C596.38 280.68 597.07 281.06 597.75 281.08 C598.43 281.1 599.34 280.71 599.8 280.58 C600.26 280.46 600.38 280.36 600.5 280.32" fill="none" stroke="#3e2a2a" stroke-width="0.9" />
<path d="M374.3 323.5 q2 -2 4 0 t4 0 t4 0 t4 0 t4 0 t4 0 t4 0 t4 0 t4 0 t4 0 t4 0 t4 0 t4 0 t4 0 t4 0 t4 0 t4 0 t4 0 t4 0 t4 0 t4 0 t4 0 t4 0 t4 0 t4 0 t4 0 t4 0 t4 0 t4 0 t4 0 t4 0 t4 0 t4 0 t4 0 t4 0 t4 0 t4 0 t4 0 t4 0 t4 0 t4 0 t4 0 t4 0 t4 0 t4 0 t4 0 t4 0 t4 0 t4 0 t4 0 t4 0 t4 0 t4 0 t4 0 t4 0 t4 0 t4 0" fill="none" stroke="#ffffff" stroke-width="4.5" />
<path d="M374.3 321.2 q2 -2 4 0 t4 0 t4 0 t4 0 t4 0 t4 0 t4 0 t4 0 t4 0 t4 0 t4 0 t4 0 t4 0 t4 0 t4 0 t4 0 t4 0 t4 0 t4 0 t4 0 t4 0 t4 0 t4 0 t4 0 t4 0 t4 0 t4 0 t4 0 t4 0 t4 0 t4 0 t4 0 t4 0 t4 0 t4 0 t4 0 t4 0 t4 0 t4 0 t4 0 t4 0 t4 0 t4 0 t4 0 t4 0 t4 0 t4 0 t4 0 t4 0 t4 0 t4 0 t4 0 t4 0 t4 0 t4 0 t4 0 t4 0" fill="none" stroke="#6e5c48" stroke-width="0.75" />
<path d="M374.3 325.8 q2 -2 4 0 t4 0 t4 0 t4 0 t4 0 t4 0 t4 0 t4 0 t4 0 t4 0 t4 0 t4 0 t4 0 t4 0 t4 0 t4 0 t4 0 t4 0 t4 0 t4 0 t4 0 t4 0 t4 0 t4 0 t4 0 t4 0 t4 0 t4 0 t4 0 t4 0 t4 0 t4 0 t4 0 t4 0 t4 0 t4 0 t4 0 t4 0 t4 0 t4 0 t4 0 t4 0 t4 0 t4 0 t4 0 t4 0 t4 0 t4 0 t4 0 t4 0 t4 0 t4 0 t4 0 t4 0 t4 0 t4 0 t4 0" fill="none" stroke="#6e5c48" stroke-width="0.75" />
<text x="386.5" y="284" font-family='"Liberation Sans", sans-serif' font-size="7.9" font-weight="bold" fill="#80501f" text-anchor="middle" textLength="5.3" lengthAdjust="spacingAndGlyphs" >C</text>
<text x="417.3" y="296.7" font-family='"Liberation Sans", sans-serif' font-size="7.9" font-weight="bold" fill="#80501f" text-anchor="middle" textLength="5.3" lengthAdjust="spacingAndGlyphs" >C</text>
<text x="393.6" y="307.8" font-family='"Liberation Sans", sans-serif' font-size="7.9" font-weight="bold" fill="#80501f" text-anchor="middle" textLength="5.3" lengthAdjust="spacingAndGlyphs" >C</text>
<text x="440.9" y="283.5" font-family='"Liberation Sans", sans-serif' font-size="7.9" font-weight="bold" fill="#80501f" text-anchor="middle" textLength="5.3" lengthAdjust="spacingAndGlyphs" >C</text>
<text x="439.3" y="314.1" font-family='"Liberation Sans", sans-serif' font-size="7.9" font-weight="bold" fill="#80501f" text-anchor="middle" textLength="5.3" lengthAdjust="spacingAndGlyphs" >C</text>
<text x="466.7" y="296.2" font-family='"Liberation Sans", sans-serif' font-size="7.9" font-weight="bold" fill="#80501f" text-anchor="middle" textLength="5.3" lengthAdjust="spacingAndGlyphs" >C</text>
<text x="395.7" y="338.9" font-family='"Liberation Sans", sans-serif' font-size="7.9" font-weight="bold" fill="#80501f" text-anchor="middle" textLength="5.3" lengthAdjust="spacingAndGlyphs" >C</text>
<text x="440.9" y="343.1" font-family='"Liberation Sans", sans-serif' font-size="7.9" font-weight="bold" fill="#80501f" text-anchor="middle" textLength="5.3" lengthAdjust="spacingAndGlyphs" >C</text>
<text x="389.5" y="357.4" font-family='"Liberation Sans", sans-serif' font-size="7.9" font-weight="bold" fill="#80501f" text-anchor="middle" textLength="5.3" lengthAdjust="spacingAndGlyphs" >C</text>
<text x="418.9" y="360.5" font-family='"Liberation Sans", sans-serif' font-size="7.9" font-weight="bold" fill="#80501f" text-anchor="middle" textLength="5.3" lengthAdjust="spacingAndGlyphs" >C</text>
<text x="442.3" y="367.4" font-family='"Liberation Sans", sans-serif' font-size="7.9" font-weight="bold" fill="#80501f" text-anchor="middle" textLength="5.3" lengthAdjust="spacingAndGlyphs" >C</text>
<text x="468.3" y="361.6" font-family='"Liberation Sans", sans-serif' font-size="7.9" font-weight="bold" fill="#80501f" text-anchor="middle" textLength="5.3" lengthAdjust="spacingAndGlyphs" >C</text>
<text x="391.3" y="378.3" font-family='"Liberation Sans", sans-serif' font-size="7.9" font-weight="bold" fill="#80501f" text-anchor="middle" textLength="5.3" lengthAdjust="spacingAndGlyphs" >C</text>
<text x="481.7" y="285.6" font-family='"Liberation Sans", sans-serif' font-size="7.9" font-weight="bold" fill="#80501f" text-anchor="middle" textLength="5.3" lengthAdjust="spacingAndGlyphs" >C</text>
<text x="523.6" y="287" font-family='"Liberation Sans", sans-serif' font-size="7.9" font-weight="bold" fill="#80501f" text-anchor="middle" textLength="5.3" lengthAdjust="spacingAndGlyphs" >C</text>
<text x="567.5" y="288.6" font-family='"Liberation Sans", sans-serif' font-size="7.9" font-weight="bold" fill="#80501f" text-anchor="middle" textLength="5.3" lengthAdjust="spacingAndGlyphs" >C</text>
<text x="503.2" y="297.9" font-family='"Liberation Sans", sans-serif' font-size="7.9" font-weight="bold" fill="#80501f" text-anchor="middle" textLength="5.3" lengthAdjust="spacingAndGlyphs" >C</text>
<text x="550.8" y="301.3" font-family='"Liberation Sans", sans-serif' font-size="7.9" font-weight="bold" fill="#80501f" text-anchor="middle" textLength="5.3" lengthAdjust="spacingAndGlyphs" >C</text>
<text x="591.3" y="303.2" font-family='"Liberation Sans", sans-serif' font-size="7.9" font-weight="bold" fill="#80501f" text-anchor="middle" textLength="5.3" lengthAdjust="spacingAndGlyphs" >C</text>
<text x="485.4" y="315.7" font-family='"Liberation Sans", sans-serif' font-size="7.9" font-weight="bold" fill="#80501f" text-anchor="middle" textLength="5.3" lengthAdjust="spacingAndGlyphs" >C</text>
<text x="528.1" y="315.3" font-family='"Liberation Sans", sans-serif' font-size="7.9" font-weight="bold" fill="#80501f" text-anchor="middle" textLength="5.3" lengthAdjust="spacingAndGlyphs" >C</text>
<text x="570.5" y="315.3" font-family='"Liberation Sans", sans-serif' font-size="7.9" font-weight="bold" fill="#80501f" text-anchor="middle" textLength="5.3" lengthAdjust="spacingAndGlyphs" >C</text>
<text x="545" y="340.8" font-family='"Liberation Sans", sans-serif' font-size="7.9" font-weight="bold" fill="#80501f" text-anchor="middle" textLength="5.3" lengthAdjust="spacingAndGlyphs" >C</text>
<text x="587.2" y="341.2" font-family='"Liberation Sans", sans-serif' font-size="7.9" font-weight="bold" fill="#80501f" text-anchor="middle" textLength="5.3" lengthAdjust="spacingAndGlyphs" >C</text>
<text x="524.1" y="344.9" font-family='"Liberation Sans", sans-serif' font-size="7.9" font-weight="bold" fill="#80501f" text-anchor="middle" textLength="5.3" lengthAdjust="spacingAndGlyphs" >C</text>
<text x="499.8" y="353" font-family='"Liberation Sans", sans-serif' font-size="7.9" font-weight="bold" fill="#80501f" text-anchor="middle" textLength="5.3" lengthAdjust="spacingAndGlyphs" >C</text>
<text x="560.7" y="354.2" font-family='"Liberation Sans", sans-serif' font-size="7.9" font-weight="bold" fill="#80501f" text-anchor="middle" textLength="5.3" lengthAdjust="spacingAndGlyphs" >C</text>
<text x="525.7" y="363.5" font-family='"Liberation Sans", sans-serif' font-size="7.9" font-weight="bold" fill="#80501f" text-anchor="middle" textLength="5.3" lengthAdjust="spacingAndGlyphs" >C</text>
<text x="499.1" y="370.4" font-family='"Liberation Sans", sans-serif' font-size="7.9" font-weight="bold" fill="#80501f" text-anchor="middle" textLength="5.3" lengthAdjust="spacingAndGlyphs" >C</text>
<text x="546.1" y="370.4" font-family='"Liberation Sans", sans-serif' font-size="7.9" font-weight="bold" fill="#80501f" text-anchor="middle" textLength="5.3" lengthAdjust="spacingAndGlyphs" >C</text>
<text x="590.2" y="368.6" font-family='"Liberation Sans", sans-serif' font-size="7.9" font-weight="bold" fill="#80501f" text-anchor="middle" textLength="5.3" lengthAdjust="spacingAndGlyphs" >C</text>
<text x="577" y="373.9" font-family='"Liberation Sans", sans-serif' font-size="7.9" font-weight="bold" fill="#80501f" text-anchor="middle" textLength="5.3" lengthAdjust="spacingAndGlyphs" >C</text>
<path d="M374.4 386.5 C376.42 385.9 382.1 384.1 386.5 382.9 C390.9 381.7 396.02 380.37 400.8 379.3 C405.58 378.23 410.42 377.33 415.2 376.5 C419.98 375.67 424.53 374.97 429.5 374.3 C434.47 373.63 439.82 372.97 445 372.5 C450.18 372.03 455.6 371.63 460.6 371.5 C465.6 371.37 471.27 371.55 475 371.7 C478.73 371.85 478.68 371.83 483 372.4 C487.32 372.97 494.93 374.05 500.9 375.1 C506.87 376.15 513.18 377.57 518.8 378.7 C524.42 379.83 529.48 380.88 534.6 381.9 C539.72 382.92 547.02 384.32 549.5 384.8 L549.5 385 C547.02 384.9 539.72 385 534.6 384.4 C529.48 383.8 524.42 382.47 518.8 381.4 C513.18 380.33 506.87 378.97 500.9 378 C494.93 377.03 487.32 376.12 483 375.6 C478.68 375.08 478.73 375.05 475 374.9 C471.27 374.75 465.6 374.55 460.6 374.7 C455.6 374.85 450.18 375.32 445 375.8 C439.82 376.28 434.47 376.97 429.5 377.6 C424.53 378.23 419.98 378.77 415.2 379.6 C410.42 380.43 405.58 381.45 400.8 382.6 C396.02 383.75 389.83 385.67 386.5 386.5 C383.17 387.33 382.82 387.52 380.8 387.6 C378.78 387.68 375.47 387.1 374.4 387 Z" fill="#121212" stroke="none" stroke-width="0" />
<path d="M374.4 386.5 C376.42 385.9 382.1 384.1 386.5 382.9 C390.9 381.7 396.02 380.37 400.8 379.3 C405.58 378.23 410.42 377.33 415.2 376.5 C419.98 375.67 424.53 374.97 429.5 374.3 C434.47 373.63 439.82 372.97 445 372.5 C450.18 372.03 455.6 371.63 460.6 371.5 C465.6 371.37 471.27 371.55 475 371.7 C478.73 371.85 478.68 371.83 483 372.4 C487.32 372.97 494.93 374.05 500.9 375.1 C506.87 376.15 513.18 377.57 518.8 378.7 C524.42 379.83 529.73 380.93 534.6 381.9 C539.47 382.87 541.43 383.03 548 384.5 C554.57 385.97 565.25 388.63 574 390.7 C582.75 392.77 596.08 395.87 600.5 396.9" fill="none" stroke="#1a1a1a" stroke-width="0.8" />
<path d="M374.4 390.8 C375.47 390.45 378.78 389.42 380.8 388.7 C382.82 387.98 383.17 387.52 386.5 386.5 C389.83 385.48 396.02 383.75 400.8 382.6 C405.58 381.45 410.42 380.43 415.2 379.6 C419.98 378.77 424.53 378.23 429.5 377.6 C434.47 376.97 439.82 376.28 445 375.8 C450.18 375.32 455.6 374.85 460.6 374.7 C465.6 374.55 471.27 374.75 475 374.9 C478.73 375.05 478.68 375.08 483 375.6 C487.32 376.12 494.93 377.03 500.9 378 C506.87 378.97 513.18 380.35 518.8 381.4 C524.42 382.45 529.73 383.47 534.6 384.3 C539.47 385.13 541.43 384.92 548 386.4 C554.57 387.88 565.25 390.93 574 393.2 C582.75 395.47 596.08 398.87 600.5 400" fill="none" stroke="#1a1a1a" stroke-width="0.8" />
<path d="M374.4 393.6 C377.37 393.25 386.6 392.45 392.2 391.5 C397.8 390.55 402.98 388.9 408 387.9 C413.02 386.9 417.52 386.22 422.3 385.5 C427.08 384.78 432.55 384.07 436.7 383.6 C440.85 383.13 442.48 382.92 447.2 382.7 C451.92 382.48 458.3 382.13 465 382.3 C471.7 382.47 479.92 382.92 487.4 383.7 C494.88 384.48 502.42 385.82 509.9 387 C517.38 388.18 525.57 389.67 532.3 390.8 C539.03 391.93 545.07 392.93 550.3 393.8 C555.53 394.67 561.47 395.63 563.7 396" fill="none" stroke="#2a2218" stroke-width="0.9" stroke-dasharray="6.5 3" stroke-dashoffset="-9"/>
</g>
<line x1="424.7" y1="227.4" x2="424.7" y2="382.6" stroke="#3a3a3a" stroke-width="0.75" />
<line x1="421" y1="382.6" x2="428.4" y2="382.6" stroke="#2a2a2a" stroke-width="1" />
<path d="M424.7 222.5 L421.3 228.7 L428.1 228.7 Z" fill="#0c0c0c" stroke="none" stroke-width="0" />
<text x="424.7" y="221.9" font-family='"Liberation Serif", serif' font-size="8.4" font-weight="bold" fill="#141414" text-anchor="middle" textLength="13.2" lengthAdjust="spacingAndGlyphs" >714</text>
<line x1="461.3" y1="227.4" x2="461.3" y2="386.4" stroke="#3a3a3a" stroke-width="0.75" />
<line x1="457.6" y1="386.4" x2="465" y2="386.4" stroke="#2a2a2a" stroke-width="1" />
<path d="M461.3 222.5 L457.9 228.7 L464.7 228.7 Z" fill="#0c0c0c" stroke="none" stroke-width="0" />
<text x="461.3" y="221.9" font-family='"Liberation Serif", serif' font-size="8.4" font-weight="bold" fill="#141414" text-anchor="middle" textLength="13.2" lengthAdjust="spacingAndGlyphs" >712</text>
<line x1="536.1" y1="227.4" x2="536.1" y2="410.2" stroke="#3a3a3a" stroke-width="0.75" />
<line x1="532.4" y1="410.2" x2="539.8" y2="410.2" stroke="#2a2a2a" stroke-width="1" />
<path d="M536.1 222.5 L532.7 228.7 L539.5 228.7 Z" fill="#0c0c0c" stroke="none" stroke-width="0" />
<text x="536.1" y="221.9" font-family='"Liberation Serif", serif' font-size="8.4" font-weight="bold" fill="#141414" text-anchor="middle" textLength="13.2" lengthAdjust="spacingAndGlyphs" >711</text>
<rect x="374.3" y="228.4" width="226.2" height="193.4" fill="none" stroke="#4a4036" stroke-width="0.9" />
<text x="373" y="226" font-family='"Liberation Serif", serif' font-size="9.6" font-weight="bold" fill="#141414" text-anchor="start" textLength="17.2" lengthAdjust="spacingAndGlyphs" >СЗ</text>
<text x="583.4" y="225.8" font-family='"Liberation Serif", serif' font-size="9.6" font-weight="bold" fill="#141414" text-anchor="start" textLength="18.4" lengthAdjust="spacingAndGlyphs" >ЮВ</text>
<text x="489.3" y="234.6" font-family='"Liberation Serif", serif' font-size="8.6" font-weight="bold" fill="#1c1c10" text-anchor="start" textLength="6.4" lengthAdjust="spacingAndGlyphs" >N</text>
<text x="497.4" y="247.3" font-family='"Liberation Serif", serif' font-size="9.6" font-weight="bold" fill="#1c2a34" text-anchor="start" textLength="9.4" lengthAdjust="spacingAndGlyphs" >J<tspan font-size="7.2" dy="1.6">2</tspan></text>
<text x="496.4" y="257.2" font-family='"Liberation Serif", serif' font-size="9.6" font-weight="bold" fill="#1c2a34" text-anchor="start" textLength="8.6" lengthAdjust="spacingAndGlyphs" >J<tspan font-size="7.2" dy="1.6">1</tspan></text>
<text x="491.2" y="272.6" font-family='"Liberation Serif", serif' font-size="9.8" font-weight="bold" fill="#2a1a2a" text-anchor="start" textLength="13.7" lengthAdjust="spacingAndGlyphs" >PT</text>
<text x="470.1" y="345.6" font-family='"Liberation Serif", serif' font-size="10.2" font-weight="bold" fill="#1a1208" text-anchor="start" textLength="17.4" lengthAdjust="spacingAndGlyphs" >P<tspan font-size="7.6" dy="1.8">1</tspan><tspan dy="-1.8">k</tspan></text>
<text x="462.9" y="400.5" font-family='"Liberation Serif", serif' font-size="10.2" font-weight="bold" fill="#1a1208" text-anchor="start" textLength="9.8" lengthAdjust="spacingAndGlyphs" >P<tspan font-size="7.6" dy="1.8">2</tspan></text>
<text x="376.5" y="397.3" font-family='"Liberation Serif", serif' font-size="6.6" font-weight="bold" fill="#2a2218" text-anchor="start" textLength="11" lengthAdjust="spacingAndGlyphs" >VII</text>
<line x1="368.4" y1="264.5" x2="374.3" y2="264.5" stroke="#222" stroke-width="1" />
<text x="344.2" y="267.6" font-family='"Liberation Serif", serif' font-size="8.8" font-weight="bold" fill="#1a1a1a" text-anchor="start" textLength="23.6" lengthAdjust="spacingAndGlyphs" >-1500</text>
<line x1="368.4" y1="315.5" x2="374.3" y2="315.5" stroke="#222" stroke-width="1" />
<text x="344.2" y="318.6" font-family='"Liberation Serif", serif' font-size="8.8" font-weight="bold" fill="#1a1a1a" text-anchor="start" textLength="23.6" lengthAdjust="spacingAndGlyphs" >-2000</text>
<line x1="368.4" y1="370.9" x2="374.3" y2="370.9" stroke="#222" stroke-width="1" />
<text x="344.2" y="374" font-family='"Liberation Serif", serif' font-size="8.8" font-weight="bold" fill="#1a1a1a" text-anchor="start" textLength="23.6" lengthAdjust="spacingAndGlyphs" >-3000</text>
<line x1="368.4" y1="420.2" x2="374.3" y2="420.2" stroke="#222" stroke-width="1" />
<text x="344.2" y="423.3" font-family='"Liberation Serif", serif' font-size="8.8" font-weight="bold" fill="#1a1a1a" text-anchor="start" textLength="23.6" lengthAdjust="spacingAndGlyphs" >-3500</text>
<text x="367" y="427.6" font-family='"Liberation Serif", serif' font-size="6.6" font-weight="bold" fill="#222" text-anchor="start" >м</text>
<line x1="549.1" y1="385" x2="599.8" y2="385" stroke="#24469a" stroke-width="1.5" stroke-dasharray="4.5 2"/>
<text x="551.4" y="383.5" font-family='"Liberation Serif", serif' font-size="7.6" font-weight="bold" fill="#2c4a96" text-anchor="start" textLength="44.9" lengthAdjust="spacingAndGlyphs" >ВНК-3210м</text>
<text x="274.1" y="440.9" font-family='"Liberation Sans", sans-serif' font-size="9.1" font-weight="bold" fill="#141414" text-anchor="start" textLength="336.6" lengthAdjust="spacingAndGlyphs" >По Л.И. Червинской,1993 г. из Справочника 1996 г. с дополнениями 2019 г.</text>
</svg>
</body></html>
